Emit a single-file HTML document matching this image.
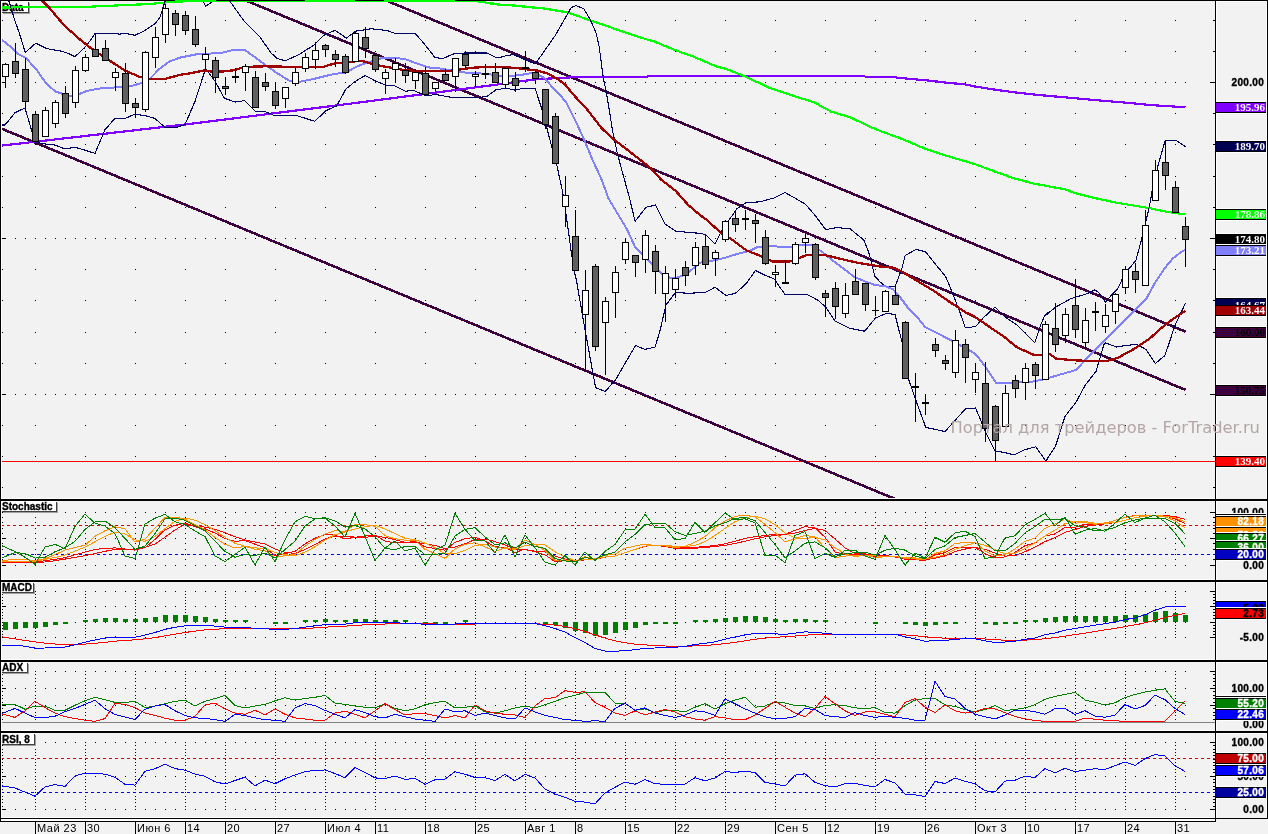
<!DOCTYPE html>
<html><head><meta charset="utf-8"><style>
html,body{margin:0;padding:0;background:#f2f2f2;overflow:hidden;}
svg{display:block;}
text{font-family:"Liberation Sans","DejaVu Sans",sans-serif;}
.d{font-size:11px;fill:#000;letter-spacing:0.5px;}
.t{font-size:10px;font-weight:bold;fill:#000;stroke:#000;stroke-width:0.35px;}
.v{font-size:10px;font-weight:bold;text-anchor:end;letter-spacing:0.3px;stroke-width:0.35px;}
.bv{font-family:"Liberation Serif",serif;font-size:11px;font-weight:bold;text-anchor:end;}
.wm{font-family:"DejaVu Sans",sans-serif;font-size:16.3px;fill:#b4a6a6;}
</style></head><body>
<svg shape-rendering="crispEdges" width="1268" height="834" viewBox="0 0 1268 834">
<defs>
<pattern id="dith" x="0" y="0" width="2" height="2" patternUnits="userSpaceOnUse"><rect width="2" height="2" fill="#2c004c"/><rect width="1" height="1" fill="#4c0030"/><rect x="1" y="1" width="1" height="1" fill="#4c0030"/></pattern>
<clipPath id="cmain"><rect x="1" y="1" width="1214" height="497"/></clipPath>
<clipPath id="cst"><rect x="1" y="501" width="1214" height="78"/></clipPath>
<clipPath id="cmd"><rect x="1" y="582" width="1214" height="77"/></clipPath>
<clipPath id="cad"><rect x="1" y="662" width="1214" height="68"/></clipPath>
<clipPath id="crs"><rect x="1" y="733" width="1214" height="84"/></clipPath>
<clipPath id="cax"><rect x="1216" y="0" width="50" height="818"/></clipPath>
</defs>
<rect x="0" y="0" width="1268" height="834" fill="#f2f2f2"/>
<path d="M15 82h1v1h-1zM25 82h1v1h-1zM35 82h1v1h-1zM45 82h1v1h-1zM55 82h1v1h-1zM65 82h1v1h-1zM75 82h1v1h-1zM85 82h1v1h-1zM95 82h1v1h-1zM105 82h1v1h-1zM115 82h1v1h-1zM125 82h1v1h-1zM135 82h1v1h-1zM145 82h1v1h-1zM155 82h1v1h-1zM165 82h1v1h-1zM175 82h1v1h-1zM185 82h1v1h-1zM195 82h1v1h-1zM205 82h1v1h-1zM215 82h1v1h-1zM225 82h1v1h-1zM235 82h1v1h-1zM245 82h1v1h-1zM255 82h1v1h-1zM265 82h1v1h-1zM275 82h1v1h-1zM285 82h1v1h-1zM295 82h1v1h-1zM305 82h1v1h-1zM315 82h1v1h-1zM325 82h1v1h-1zM335 82h1v1h-1zM345 82h1v1h-1zM355 82h1v1h-1zM365 82h1v1h-1zM375 82h1v1h-1zM385 82h1v1h-1zM395 82h1v1h-1zM405 82h1v1h-1zM415 82h1v1h-1zM425 82h1v1h-1zM435 82h1v1h-1zM445 82h1v1h-1zM455 82h1v1h-1zM465 82h1v1h-1zM475 82h1v1h-1zM485 82h1v1h-1zM495 82h1v1h-1zM505 82h1v1h-1zM515 82h1v1h-1zM525 82h1v1h-1zM535 82h1v1h-1zM545 82h1v1h-1zM555 82h1v1h-1zM565 82h1v1h-1zM575 82h1v1h-1zM585 82h1v1h-1zM595 82h1v1h-1zM605 82h1v1h-1zM615 82h1v1h-1zM625 82h1v1h-1zM635 82h1v1h-1zM645 82h1v1h-1zM655 82h1v1h-1zM665 82h1v1h-1zM675 82h1v1h-1zM685 82h1v1h-1zM695 82h1v1h-1zM705 82h1v1h-1zM715 82h1v1h-1zM725 82h1v1h-1zM735 82h1v1h-1zM745 82h1v1h-1zM755 82h1v1h-1zM765 82h1v1h-1zM775 82h1v1h-1zM785 82h1v1h-1zM795 82h1v1h-1zM805 82h1v1h-1zM815 82h1v1h-1zM825 82h1v1h-1zM835 82h1v1h-1zM845 82h1v1h-1zM855 82h1v1h-1zM865 82h1v1h-1zM875 82h1v1h-1zM885 82h1v1h-1zM895 82h1v1h-1zM905 82h1v1h-1zM915 82h1v1h-1zM925 82h1v1h-1zM935 82h1v1h-1zM945 82h1v1h-1zM955 82h1v1h-1zM965 82h1v1h-1zM975 82h1v1h-1zM985 82h1v1h-1zM995 82h1v1h-1zM1005 82h1v1h-1zM1015 82h1v1h-1zM1025 82h1v1h-1zM1035 82h1v1h-1zM1045 82h1v1h-1zM1055 82h1v1h-1zM1065 82h1v1h-1zM1075 82h1v1h-1zM1085 82h1v1h-1zM1095 82h1v1h-1zM1105 82h1v1h-1zM1115 82h1v1h-1zM1125 82h1v1h-1zM1135 82h1v1h-1zM1145 82h1v1h-1zM1155 82h1v1h-1zM1165 82h1v1h-1zM1175 82h1v1h-1zM1185 82h1v1h-1zM15 238h1v1h-1zM25 238h1v1h-1zM35 238h1v1h-1zM45 238h1v1h-1zM55 238h1v1h-1zM65 238h1v1h-1zM75 238h1v1h-1zM85 238h1v1h-1zM95 238h1v1h-1zM105 238h1v1h-1zM115 238h1v1h-1zM125 238h1v1h-1zM135 238h1v1h-1zM145 238h1v1h-1zM155 238h1v1h-1zM165 238h1v1h-1zM175 238h1v1h-1zM185 238h1v1h-1zM195 238h1v1h-1zM205 238h1v1h-1zM215 238h1v1h-1zM225 238h1v1h-1zM235 238h1v1h-1zM245 238h1v1h-1zM255 238h1v1h-1zM265 238h1v1h-1zM275 238h1v1h-1zM285 238h1v1h-1zM295 238h1v1h-1zM305 238h1v1h-1zM315 238h1v1h-1zM325 238h1v1h-1zM335 238h1v1h-1zM345 238h1v1h-1zM355 238h1v1h-1zM365 238h1v1h-1zM375 238h1v1h-1zM385 238h1v1h-1zM395 238h1v1h-1zM405 238h1v1h-1zM415 238h1v1h-1zM425 238h1v1h-1zM435 238h1v1h-1zM445 238h1v1h-1zM455 238h1v1h-1zM465 238h1v1h-1zM475 238h1v1h-1zM485 238h1v1h-1zM495 238h1v1h-1zM505 238h1v1h-1zM515 238h1v1h-1zM525 238h1v1h-1zM535 238h1v1h-1zM545 238h1v1h-1zM555 238h1v1h-1zM565 238h1v1h-1zM575 238h1v1h-1zM585 238h1v1h-1zM595 238h1v1h-1zM605 238h1v1h-1zM615 238h1v1h-1zM625 238h1v1h-1zM635 238h1v1h-1zM645 238h1v1h-1zM655 238h1v1h-1zM665 238h1v1h-1zM675 238h1v1h-1zM685 238h1v1h-1zM695 238h1v1h-1zM705 238h1v1h-1zM715 238h1v1h-1zM725 238h1v1h-1zM735 238h1v1h-1zM745 238h1v1h-1zM755 238h1v1h-1zM765 238h1v1h-1zM775 238h1v1h-1zM785 238h1v1h-1zM795 238h1v1h-1zM805 238h1v1h-1zM815 238h1v1h-1zM825 238h1v1h-1zM835 238h1v1h-1zM845 238h1v1h-1zM855 238h1v1h-1zM865 238h1v1h-1zM875 238h1v1h-1zM885 238h1v1h-1zM895 238h1v1h-1zM905 238h1v1h-1zM915 238h1v1h-1zM925 238h1v1h-1zM935 238h1v1h-1zM945 238h1v1h-1zM955 238h1v1h-1zM965 238h1v1h-1zM975 238h1v1h-1zM985 238h1v1h-1zM995 238h1v1h-1zM1005 238h1v1h-1zM1015 238h1v1h-1zM1025 238h1v1h-1zM1035 238h1v1h-1zM1045 238h1v1h-1zM1055 238h1v1h-1zM1065 238h1v1h-1zM1075 238h1v1h-1zM1085 238h1v1h-1zM1095 238h1v1h-1zM1105 238h1v1h-1zM1115 238h1v1h-1zM1125 238h1v1h-1zM1135 238h1v1h-1zM1145 238h1v1h-1zM1155 238h1v1h-1zM1165 238h1v1h-1zM1175 238h1v1h-1zM1185 238h1v1h-1zM15 394h1v1h-1zM25 394h1v1h-1zM35 394h1v1h-1zM45 394h1v1h-1zM55 394h1v1h-1zM65 394h1v1h-1zM75 394h1v1h-1zM85 394h1v1h-1zM95 394h1v1h-1zM105 394h1v1h-1zM115 394h1v1h-1zM125 394h1v1h-1zM135 394h1v1h-1zM145 394h1v1h-1zM155 394h1v1h-1zM165 394h1v1h-1zM175 394h1v1h-1zM185 394h1v1h-1zM195 394h1v1h-1zM205 394h1v1h-1zM215 394h1v1h-1zM225 394h1v1h-1zM235 394h1v1h-1zM245 394h1v1h-1zM255 394h1v1h-1zM265 394h1v1h-1zM275 394h1v1h-1zM285 394h1v1h-1zM295 394h1v1h-1zM305 394h1v1h-1zM315 394h1v1h-1zM325 394h1v1h-1zM335 394h1v1h-1zM345 394h1v1h-1zM355 394h1v1h-1zM365 394h1v1h-1zM375 394h1v1h-1zM385 394h1v1h-1zM395 394h1v1h-1zM405 394h1v1h-1zM415 394h1v1h-1zM425 394h1v1h-1zM435 394h1v1h-1zM445 394h1v1h-1zM455 394h1v1h-1zM465 394h1v1h-1zM475 394h1v1h-1zM485 394h1v1h-1zM495 394h1v1h-1zM505 394h1v1h-1zM515 394h1v1h-1zM525 394h1v1h-1zM535 394h1v1h-1zM545 394h1v1h-1zM555 394h1v1h-1zM565 394h1v1h-1zM575 394h1v1h-1zM585 394h1v1h-1zM595 394h1v1h-1zM605 394h1v1h-1zM615 394h1v1h-1zM625 394h1v1h-1zM635 394h1v1h-1zM645 394h1v1h-1zM655 394h1v1h-1zM665 394h1v1h-1zM675 394h1v1h-1zM685 394h1v1h-1zM695 394h1v1h-1zM705 394h1v1h-1zM715 394h1v1h-1zM725 394h1v1h-1zM735 394h1v1h-1zM745 394h1v1h-1zM755 394h1v1h-1zM765 394h1v1h-1zM775 394h1v1h-1zM785 394h1v1h-1zM795 394h1v1h-1zM805 394h1v1h-1zM815 394h1v1h-1zM825 394h1v1h-1zM835 394h1v1h-1zM845 394h1v1h-1zM855 394h1v1h-1zM865 394h1v1h-1zM875 394h1v1h-1zM885 394h1v1h-1zM895 394h1v1h-1zM905 394h1v1h-1zM915 394h1v1h-1zM925 394h1v1h-1zM935 394h1v1h-1zM945 394h1v1h-1zM955 394h1v1h-1zM965 394h1v1h-1zM975 394h1v1h-1zM985 394h1v1h-1zM995 394h1v1h-1zM1005 394h1v1h-1zM1015 394h1v1h-1zM1025 394h1v1h-1zM1035 394h1v1h-1zM1045 394h1v1h-1zM1055 394h1v1h-1zM1065 394h1v1h-1zM1075 394h1v1h-1zM1085 394h1v1h-1zM1095 394h1v1h-1zM1105 394h1v1h-1zM1115 394h1v1h-1zM1125 394h1v1h-1zM1135 394h1v1h-1zM1145 394h1v1h-1zM1155 394h1v1h-1zM1165 394h1v1h-1zM1175 394h1v1h-1zM1185 394h1v1h-1zM35 487h1v1h-1zM35 456h1v1h-1zM35 425h1v1h-1zM35 394h1v1h-1zM35 363h1v1h-1zM35 332h1v1h-1zM35 300h1v1h-1zM35 269h1v1h-1zM35 238h1v1h-1zM35 207h1v1h-1zM35 176h1v1h-1zM35 144h1v1h-1zM35 113h1v1h-1zM35 82h1v1h-1zM35 51h1v1h-1zM35 20h1v1h-1zM85 487h1v1h-1zM85 456h1v1h-1zM85 425h1v1h-1zM85 394h1v1h-1zM85 363h1v1h-1zM85 332h1v1h-1zM85 300h1v1h-1zM85 269h1v1h-1zM85 238h1v1h-1zM85 207h1v1h-1zM85 176h1v1h-1zM85 144h1v1h-1zM85 113h1v1h-1zM85 82h1v1h-1zM85 51h1v1h-1zM85 20h1v1h-1zM135 487h1v1h-1zM135 456h1v1h-1zM135 425h1v1h-1zM135 394h1v1h-1zM135 363h1v1h-1zM135 332h1v1h-1zM135 300h1v1h-1zM135 269h1v1h-1zM135 238h1v1h-1zM135 207h1v1h-1zM135 176h1v1h-1zM135 144h1v1h-1zM135 113h1v1h-1zM135 82h1v1h-1zM135 51h1v1h-1zM135 20h1v1h-1zM185 487h1v1h-1zM185 456h1v1h-1zM185 425h1v1h-1zM185 394h1v1h-1zM185 363h1v1h-1zM185 332h1v1h-1zM185 300h1v1h-1zM185 269h1v1h-1zM185 238h1v1h-1zM185 207h1v1h-1zM185 176h1v1h-1zM185 144h1v1h-1zM185 113h1v1h-1zM185 82h1v1h-1zM185 51h1v1h-1zM185 20h1v1h-1zM225 487h1v1h-1zM225 456h1v1h-1zM225 425h1v1h-1zM225 394h1v1h-1zM225 363h1v1h-1zM225 332h1v1h-1zM225 300h1v1h-1zM225 269h1v1h-1zM225 238h1v1h-1zM225 207h1v1h-1zM225 176h1v1h-1zM225 144h1v1h-1zM225 113h1v1h-1zM225 82h1v1h-1zM225 51h1v1h-1zM225 20h1v1h-1zM275 487h1v1h-1zM275 456h1v1h-1zM275 425h1v1h-1zM275 394h1v1h-1zM275 363h1v1h-1zM275 332h1v1h-1zM275 300h1v1h-1zM275 269h1v1h-1zM275 238h1v1h-1zM275 207h1v1h-1zM275 176h1v1h-1zM275 144h1v1h-1zM275 113h1v1h-1zM275 82h1v1h-1zM275 51h1v1h-1zM275 20h1v1h-1zM325 487h1v1h-1zM325 456h1v1h-1zM325 425h1v1h-1zM325 394h1v1h-1zM325 363h1v1h-1zM325 332h1v1h-1zM325 300h1v1h-1zM325 269h1v1h-1zM325 238h1v1h-1zM325 207h1v1h-1zM325 176h1v1h-1zM325 144h1v1h-1zM325 113h1v1h-1zM325 82h1v1h-1zM325 51h1v1h-1zM325 20h1v1h-1zM375 487h1v1h-1zM375 456h1v1h-1zM375 425h1v1h-1zM375 394h1v1h-1zM375 363h1v1h-1zM375 332h1v1h-1zM375 300h1v1h-1zM375 269h1v1h-1zM375 238h1v1h-1zM375 207h1v1h-1zM375 176h1v1h-1zM375 144h1v1h-1zM375 113h1v1h-1zM375 82h1v1h-1zM375 51h1v1h-1zM375 20h1v1h-1zM425 487h1v1h-1zM425 456h1v1h-1zM425 425h1v1h-1zM425 394h1v1h-1zM425 363h1v1h-1zM425 332h1v1h-1zM425 300h1v1h-1zM425 269h1v1h-1zM425 238h1v1h-1zM425 207h1v1h-1zM425 176h1v1h-1zM425 144h1v1h-1zM425 113h1v1h-1zM425 82h1v1h-1zM425 51h1v1h-1zM425 20h1v1h-1zM475 487h1v1h-1zM475 456h1v1h-1zM475 425h1v1h-1zM475 394h1v1h-1zM475 363h1v1h-1zM475 332h1v1h-1zM475 300h1v1h-1zM475 269h1v1h-1zM475 238h1v1h-1zM475 207h1v1h-1zM475 176h1v1h-1zM475 144h1v1h-1zM475 113h1v1h-1zM475 82h1v1h-1zM475 51h1v1h-1zM475 20h1v1h-1zM525 487h1v1h-1zM525 456h1v1h-1zM525 425h1v1h-1zM525 394h1v1h-1zM525 363h1v1h-1zM525 332h1v1h-1zM525 300h1v1h-1zM525 269h1v1h-1zM525 238h1v1h-1zM525 207h1v1h-1zM525 176h1v1h-1zM525 144h1v1h-1zM525 113h1v1h-1zM525 82h1v1h-1zM525 51h1v1h-1zM525 20h1v1h-1zM575 487h1v1h-1zM575 456h1v1h-1zM575 425h1v1h-1zM575 394h1v1h-1zM575 363h1v1h-1zM575 332h1v1h-1zM575 300h1v1h-1zM575 269h1v1h-1zM575 238h1v1h-1zM575 207h1v1h-1zM575 176h1v1h-1zM575 144h1v1h-1zM575 113h1v1h-1zM575 82h1v1h-1zM575 51h1v1h-1zM575 20h1v1h-1zM625 487h1v1h-1zM625 456h1v1h-1zM625 425h1v1h-1zM625 394h1v1h-1zM625 363h1v1h-1zM625 332h1v1h-1zM625 300h1v1h-1zM625 269h1v1h-1zM625 238h1v1h-1zM625 207h1v1h-1zM625 176h1v1h-1zM625 144h1v1h-1zM625 113h1v1h-1zM625 82h1v1h-1zM625 51h1v1h-1zM625 20h1v1h-1zM675 487h1v1h-1zM675 456h1v1h-1zM675 425h1v1h-1zM675 394h1v1h-1zM675 363h1v1h-1zM675 332h1v1h-1zM675 300h1v1h-1zM675 269h1v1h-1zM675 238h1v1h-1zM675 207h1v1h-1zM675 176h1v1h-1zM675 144h1v1h-1zM675 113h1v1h-1zM675 82h1v1h-1zM675 51h1v1h-1zM675 20h1v1h-1zM725 487h1v1h-1zM725 456h1v1h-1zM725 425h1v1h-1zM725 394h1v1h-1zM725 363h1v1h-1zM725 332h1v1h-1zM725 300h1v1h-1zM725 269h1v1h-1zM725 238h1v1h-1zM725 207h1v1h-1zM725 176h1v1h-1zM725 144h1v1h-1zM725 113h1v1h-1zM725 82h1v1h-1zM725 51h1v1h-1zM725 20h1v1h-1zM775 487h1v1h-1zM775 456h1v1h-1zM775 425h1v1h-1zM775 394h1v1h-1zM775 363h1v1h-1zM775 332h1v1h-1zM775 300h1v1h-1zM775 269h1v1h-1zM775 238h1v1h-1zM775 207h1v1h-1zM775 176h1v1h-1zM775 144h1v1h-1zM775 113h1v1h-1zM775 82h1v1h-1zM775 51h1v1h-1zM775 20h1v1h-1zM825 487h1v1h-1zM825 456h1v1h-1zM825 425h1v1h-1zM825 394h1v1h-1zM825 363h1v1h-1zM825 332h1v1h-1zM825 300h1v1h-1zM825 269h1v1h-1zM825 238h1v1h-1zM825 207h1v1h-1zM825 176h1v1h-1zM825 144h1v1h-1zM825 113h1v1h-1zM825 82h1v1h-1zM825 51h1v1h-1zM825 20h1v1h-1zM875 487h1v1h-1zM875 456h1v1h-1zM875 425h1v1h-1zM875 394h1v1h-1zM875 363h1v1h-1zM875 332h1v1h-1zM875 300h1v1h-1zM875 269h1v1h-1zM875 238h1v1h-1zM875 207h1v1h-1zM875 176h1v1h-1zM875 144h1v1h-1zM875 113h1v1h-1zM875 82h1v1h-1zM875 51h1v1h-1zM875 20h1v1h-1zM925 487h1v1h-1zM925 456h1v1h-1zM925 425h1v1h-1zM925 394h1v1h-1zM925 363h1v1h-1zM925 332h1v1h-1zM925 300h1v1h-1zM925 269h1v1h-1zM925 238h1v1h-1zM925 207h1v1h-1zM925 176h1v1h-1zM925 144h1v1h-1zM925 113h1v1h-1zM925 82h1v1h-1zM925 51h1v1h-1zM925 20h1v1h-1zM975 487h1v1h-1zM975 456h1v1h-1zM975 425h1v1h-1zM975 394h1v1h-1zM975 363h1v1h-1zM975 332h1v1h-1zM975 300h1v1h-1zM975 269h1v1h-1zM975 238h1v1h-1zM975 207h1v1h-1zM975 176h1v1h-1zM975 144h1v1h-1zM975 113h1v1h-1zM975 82h1v1h-1zM975 51h1v1h-1zM975 20h1v1h-1zM1025 487h1v1h-1zM1025 456h1v1h-1zM1025 425h1v1h-1zM1025 394h1v1h-1zM1025 363h1v1h-1zM1025 332h1v1h-1zM1025 300h1v1h-1zM1025 269h1v1h-1zM1025 238h1v1h-1zM1025 207h1v1h-1zM1025 176h1v1h-1zM1025 144h1v1h-1zM1025 113h1v1h-1zM1025 82h1v1h-1zM1025 51h1v1h-1zM1025 20h1v1h-1zM1075 487h1v1h-1zM1075 456h1v1h-1zM1075 425h1v1h-1zM1075 394h1v1h-1zM1075 363h1v1h-1zM1075 332h1v1h-1zM1075 300h1v1h-1zM1075 269h1v1h-1zM1075 238h1v1h-1zM1075 207h1v1h-1zM1075 176h1v1h-1zM1075 144h1v1h-1zM1075 113h1v1h-1zM1075 82h1v1h-1zM1075 51h1v1h-1zM1075 20h1v1h-1zM1125 487h1v1h-1zM1125 456h1v1h-1zM1125 425h1v1h-1zM1125 394h1v1h-1zM1125 363h1v1h-1zM1125 332h1v1h-1zM1125 300h1v1h-1zM1125 269h1v1h-1zM1125 238h1v1h-1zM1125 207h1v1h-1zM1125 176h1v1h-1zM1125 144h1v1h-1zM1125 113h1v1h-1zM1125 82h1v1h-1zM1125 51h1v1h-1zM1125 20h1v1h-1zM1175 487h1v1h-1zM1175 456h1v1h-1zM1175 425h1v1h-1zM1175 394h1v1h-1zM1175 363h1v1h-1zM1175 332h1v1h-1zM1175 300h1v1h-1zM1175 269h1v1h-1zM1175 238h1v1h-1zM1175 207h1v1h-1zM1175 176h1v1h-1zM1175 144h1v1h-1zM1175 113h1v1h-1zM1175 82h1v1h-1zM1175 51h1v1h-1zM1175 20h1v1h-1z" fill="#000"/>
<path d="M1 487h2v1h-2zM1213 487h2v1h-2zM1 456h2v1h-2zM1213 456h2v1h-2zM1 425h2v1h-2zM1213 425h2v1h-2zM1 394h2v1h-2zM1213 394h2v1h-2zM1 363h2v1h-2zM1213 363h2v1h-2zM1 332h2v1h-2zM1213 332h2v1h-2zM1 300h2v1h-2zM1213 300h2v1h-2zM1 269h2v1h-2zM1213 269h2v1h-2zM1 238h2v1h-2zM1213 238h2v1h-2zM1 207h2v1h-2zM1213 207h2v1h-2zM1 176h2v1h-2zM1213 176h2v1h-2zM1 144h2v1h-2zM1213 144h2v1h-2zM1 113h2v1h-2zM1213 113h2v1h-2zM1 82h2v1h-2zM1213 82h2v1h-2zM1 51h2v1h-2zM1213 51h2v1h-2zM1 20h2v1h-2zM1213 20h2v1h-2zM1 82h5v1h-5zM1210 82h5v1h-5zM1 238h5v1h-5zM1210 238h5v1h-5zM1 394h5v1h-5zM1210 394h5v1h-5z" fill="#000"/>
<path d="M15 512h1v1h-1zM25 512h1v1h-1zM35 512h1v1h-1zM45 512h1v1h-1zM55 512h1v1h-1zM65 512h1v1h-1zM75 512h1v1h-1zM85 512h1v1h-1zM95 512h1v1h-1zM105 512h1v1h-1zM115 512h1v1h-1zM125 512h1v1h-1zM135 512h1v1h-1zM145 512h1v1h-1zM155 512h1v1h-1zM165 512h1v1h-1zM175 512h1v1h-1zM185 512h1v1h-1zM195 512h1v1h-1zM205 512h1v1h-1zM215 512h1v1h-1zM225 512h1v1h-1zM235 512h1v1h-1zM245 512h1v1h-1zM255 512h1v1h-1zM265 512h1v1h-1zM275 512h1v1h-1zM285 512h1v1h-1zM295 512h1v1h-1zM305 512h1v1h-1zM315 512h1v1h-1zM325 512h1v1h-1zM335 512h1v1h-1zM345 512h1v1h-1zM355 512h1v1h-1zM365 512h1v1h-1zM375 512h1v1h-1zM385 512h1v1h-1zM395 512h1v1h-1zM405 512h1v1h-1zM415 512h1v1h-1zM425 512h1v1h-1zM435 512h1v1h-1zM445 512h1v1h-1zM455 512h1v1h-1zM465 512h1v1h-1zM475 512h1v1h-1zM485 512h1v1h-1zM495 512h1v1h-1zM505 512h1v1h-1zM515 512h1v1h-1zM525 512h1v1h-1zM535 512h1v1h-1zM545 512h1v1h-1zM555 512h1v1h-1zM565 512h1v1h-1zM575 512h1v1h-1zM585 512h1v1h-1zM595 512h1v1h-1zM605 512h1v1h-1zM615 512h1v1h-1zM625 512h1v1h-1zM635 512h1v1h-1zM645 512h1v1h-1zM655 512h1v1h-1zM665 512h1v1h-1zM675 512h1v1h-1zM685 512h1v1h-1zM695 512h1v1h-1zM705 512h1v1h-1zM715 512h1v1h-1zM725 512h1v1h-1zM735 512h1v1h-1zM745 512h1v1h-1zM755 512h1v1h-1zM765 512h1v1h-1zM775 512h1v1h-1zM785 512h1v1h-1zM795 512h1v1h-1zM805 512h1v1h-1zM815 512h1v1h-1zM825 512h1v1h-1zM835 512h1v1h-1zM845 512h1v1h-1zM855 512h1v1h-1zM865 512h1v1h-1zM875 512h1v1h-1zM885 512h1v1h-1zM895 512h1v1h-1zM905 512h1v1h-1zM915 512h1v1h-1zM925 512h1v1h-1zM935 512h1v1h-1zM945 512h1v1h-1zM955 512h1v1h-1zM965 512h1v1h-1zM975 512h1v1h-1zM985 512h1v1h-1zM995 512h1v1h-1zM1005 512h1v1h-1zM1015 512h1v1h-1zM1025 512h1v1h-1zM1035 512h1v1h-1zM1045 512h1v1h-1zM1055 512h1v1h-1zM1065 512h1v1h-1zM1075 512h1v1h-1zM1085 512h1v1h-1zM1095 512h1v1h-1zM1105 512h1v1h-1zM1115 512h1v1h-1zM1125 512h1v1h-1zM1135 512h1v1h-1zM1145 512h1v1h-1zM1155 512h1v1h-1zM1165 512h1v1h-1zM1175 512h1v1h-1zM1185 512h1v1h-1zM15 538h1v1h-1zM25 538h1v1h-1zM35 538h1v1h-1zM45 538h1v1h-1zM55 538h1v1h-1zM65 538h1v1h-1zM75 538h1v1h-1zM85 538h1v1h-1zM95 538h1v1h-1zM105 538h1v1h-1zM115 538h1v1h-1zM125 538h1v1h-1zM135 538h1v1h-1zM145 538h1v1h-1zM155 538h1v1h-1zM165 538h1v1h-1zM175 538h1v1h-1zM185 538h1v1h-1zM195 538h1v1h-1zM205 538h1v1h-1zM215 538h1v1h-1zM225 538h1v1h-1zM235 538h1v1h-1zM245 538h1v1h-1zM255 538h1v1h-1zM265 538h1v1h-1zM275 538h1v1h-1zM285 538h1v1h-1zM295 538h1v1h-1zM305 538h1v1h-1zM315 538h1v1h-1zM325 538h1v1h-1zM335 538h1v1h-1zM345 538h1v1h-1zM355 538h1v1h-1zM365 538h1v1h-1zM375 538h1v1h-1zM385 538h1v1h-1zM395 538h1v1h-1zM405 538h1v1h-1zM415 538h1v1h-1zM425 538h1v1h-1zM435 538h1v1h-1zM445 538h1v1h-1zM455 538h1v1h-1zM465 538h1v1h-1zM475 538h1v1h-1zM485 538h1v1h-1zM495 538h1v1h-1zM505 538h1v1h-1zM515 538h1v1h-1zM525 538h1v1h-1zM535 538h1v1h-1zM545 538h1v1h-1zM555 538h1v1h-1zM565 538h1v1h-1zM575 538h1v1h-1zM585 538h1v1h-1zM595 538h1v1h-1zM605 538h1v1h-1zM615 538h1v1h-1zM625 538h1v1h-1zM635 538h1v1h-1zM645 538h1v1h-1zM655 538h1v1h-1zM665 538h1v1h-1zM675 538h1v1h-1zM685 538h1v1h-1zM695 538h1v1h-1zM705 538h1v1h-1zM715 538h1v1h-1zM725 538h1v1h-1zM735 538h1v1h-1zM745 538h1v1h-1zM755 538h1v1h-1zM765 538h1v1h-1zM775 538h1v1h-1zM785 538h1v1h-1zM795 538h1v1h-1zM805 538h1v1h-1zM815 538h1v1h-1zM825 538h1v1h-1zM835 538h1v1h-1zM845 538h1v1h-1zM855 538h1v1h-1zM865 538h1v1h-1zM875 538h1v1h-1zM885 538h1v1h-1zM895 538h1v1h-1zM905 538h1v1h-1zM915 538h1v1h-1zM925 538h1v1h-1zM935 538h1v1h-1zM945 538h1v1h-1zM955 538h1v1h-1zM965 538h1v1h-1zM975 538h1v1h-1zM985 538h1v1h-1zM995 538h1v1h-1zM1005 538h1v1h-1zM1015 538h1v1h-1zM1025 538h1v1h-1zM1035 538h1v1h-1zM1045 538h1v1h-1zM1055 538h1v1h-1zM1065 538h1v1h-1zM1075 538h1v1h-1zM1085 538h1v1h-1zM1095 538h1v1h-1zM1105 538h1v1h-1zM1115 538h1v1h-1zM1125 538h1v1h-1zM1135 538h1v1h-1zM1145 538h1v1h-1zM1155 538h1v1h-1zM1165 538h1v1h-1zM1175 538h1v1h-1zM1185 538h1v1h-1zM15 565h1v1h-1zM25 565h1v1h-1zM35 565h1v1h-1zM45 565h1v1h-1zM55 565h1v1h-1zM65 565h1v1h-1zM75 565h1v1h-1zM85 565h1v1h-1zM95 565h1v1h-1zM105 565h1v1h-1zM115 565h1v1h-1zM125 565h1v1h-1zM135 565h1v1h-1zM145 565h1v1h-1zM155 565h1v1h-1zM165 565h1v1h-1zM175 565h1v1h-1zM185 565h1v1h-1zM195 565h1v1h-1zM205 565h1v1h-1zM215 565h1v1h-1zM225 565h1v1h-1zM235 565h1v1h-1zM245 565h1v1h-1zM255 565h1v1h-1zM265 565h1v1h-1zM275 565h1v1h-1zM285 565h1v1h-1zM295 565h1v1h-1zM305 565h1v1h-1zM315 565h1v1h-1zM325 565h1v1h-1zM335 565h1v1h-1zM345 565h1v1h-1zM355 565h1v1h-1zM365 565h1v1h-1zM375 565h1v1h-1zM385 565h1v1h-1zM395 565h1v1h-1zM405 565h1v1h-1zM415 565h1v1h-1zM425 565h1v1h-1zM435 565h1v1h-1zM445 565h1v1h-1zM455 565h1v1h-1zM465 565h1v1h-1zM475 565h1v1h-1zM485 565h1v1h-1zM495 565h1v1h-1zM505 565h1v1h-1zM515 565h1v1h-1zM525 565h1v1h-1zM535 565h1v1h-1zM545 565h1v1h-1zM555 565h1v1h-1zM565 565h1v1h-1zM575 565h1v1h-1zM585 565h1v1h-1zM595 565h1v1h-1zM605 565h1v1h-1zM615 565h1v1h-1zM625 565h1v1h-1zM635 565h1v1h-1zM645 565h1v1h-1zM655 565h1v1h-1zM665 565h1v1h-1zM675 565h1v1h-1zM685 565h1v1h-1zM695 565h1v1h-1zM705 565h1v1h-1zM715 565h1v1h-1zM725 565h1v1h-1zM735 565h1v1h-1zM745 565h1v1h-1zM755 565h1v1h-1zM765 565h1v1h-1zM775 565h1v1h-1zM785 565h1v1h-1zM795 565h1v1h-1zM805 565h1v1h-1zM815 565h1v1h-1zM825 565h1v1h-1zM835 565h1v1h-1zM845 565h1v1h-1zM855 565h1v1h-1zM865 565h1v1h-1zM875 565h1v1h-1zM885 565h1v1h-1zM895 565h1v1h-1zM905 565h1v1h-1zM915 565h1v1h-1zM925 565h1v1h-1zM935 565h1v1h-1zM945 565h1v1h-1zM955 565h1v1h-1zM965 565h1v1h-1zM975 565h1v1h-1zM985 565h1v1h-1zM995 565h1v1h-1zM1005 565h1v1h-1zM1015 565h1v1h-1zM1025 565h1v1h-1zM1035 565h1v1h-1zM1045 565h1v1h-1zM1055 565h1v1h-1zM1065 565h1v1h-1zM1075 565h1v1h-1zM1085 565h1v1h-1zM1095 565h1v1h-1zM1105 565h1v1h-1zM1115 565h1v1h-1zM1125 565h1v1h-1zM1135 565h1v1h-1zM1145 565h1v1h-1zM1155 565h1v1h-1zM1165 565h1v1h-1zM1175 565h1v1h-1zM1185 565h1v1h-1zM35 565h1v1h-1zM35 559h1v1h-1zM35 554h1v1h-1zM35 549h1v1h-1zM35 543h1v1h-1zM35 538h1v1h-1zM35 533h1v1h-1zM35 528h1v1h-1zM35 522h1v1h-1zM35 517h1v1h-1zM35 512h1v1h-1zM85 565h1v1h-1zM85 559h1v1h-1zM85 554h1v1h-1zM85 549h1v1h-1zM85 543h1v1h-1zM85 538h1v1h-1zM85 533h1v1h-1zM85 528h1v1h-1zM85 522h1v1h-1zM85 517h1v1h-1zM85 512h1v1h-1zM135 565h1v1h-1zM135 559h1v1h-1zM135 554h1v1h-1zM135 549h1v1h-1zM135 543h1v1h-1zM135 538h1v1h-1zM135 533h1v1h-1zM135 528h1v1h-1zM135 522h1v1h-1zM135 517h1v1h-1zM135 512h1v1h-1zM185 565h1v1h-1zM185 559h1v1h-1zM185 554h1v1h-1zM185 549h1v1h-1zM185 543h1v1h-1zM185 538h1v1h-1zM185 533h1v1h-1zM185 528h1v1h-1zM185 522h1v1h-1zM185 517h1v1h-1zM185 512h1v1h-1zM225 565h1v1h-1zM225 559h1v1h-1zM225 554h1v1h-1zM225 549h1v1h-1zM225 543h1v1h-1zM225 538h1v1h-1zM225 533h1v1h-1zM225 528h1v1h-1zM225 522h1v1h-1zM225 517h1v1h-1zM225 512h1v1h-1zM275 565h1v1h-1zM275 559h1v1h-1zM275 554h1v1h-1zM275 549h1v1h-1zM275 543h1v1h-1zM275 538h1v1h-1zM275 533h1v1h-1zM275 528h1v1h-1zM275 522h1v1h-1zM275 517h1v1h-1zM275 512h1v1h-1zM325 565h1v1h-1zM325 559h1v1h-1zM325 554h1v1h-1zM325 549h1v1h-1zM325 543h1v1h-1zM325 538h1v1h-1zM325 533h1v1h-1zM325 528h1v1h-1zM325 522h1v1h-1zM325 517h1v1h-1zM325 512h1v1h-1zM375 565h1v1h-1zM375 559h1v1h-1zM375 554h1v1h-1zM375 549h1v1h-1zM375 543h1v1h-1zM375 538h1v1h-1zM375 533h1v1h-1zM375 528h1v1h-1zM375 522h1v1h-1zM375 517h1v1h-1zM375 512h1v1h-1zM425 565h1v1h-1zM425 559h1v1h-1zM425 554h1v1h-1zM425 549h1v1h-1zM425 543h1v1h-1zM425 538h1v1h-1zM425 533h1v1h-1zM425 528h1v1h-1zM425 522h1v1h-1zM425 517h1v1h-1zM425 512h1v1h-1zM475 565h1v1h-1zM475 559h1v1h-1zM475 554h1v1h-1zM475 549h1v1h-1zM475 543h1v1h-1zM475 538h1v1h-1zM475 533h1v1h-1zM475 528h1v1h-1zM475 522h1v1h-1zM475 517h1v1h-1zM475 512h1v1h-1zM525 565h1v1h-1zM525 559h1v1h-1zM525 554h1v1h-1zM525 549h1v1h-1zM525 543h1v1h-1zM525 538h1v1h-1zM525 533h1v1h-1zM525 528h1v1h-1zM525 522h1v1h-1zM525 517h1v1h-1zM525 512h1v1h-1zM575 565h1v1h-1zM575 559h1v1h-1zM575 554h1v1h-1zM575 549h1v1h-1zM575 543h1v1h-1zM575 538h1v1h-1zM575 533h1v1h-1zM575 528h1v1h-1zM575 522h1v1h-1zM575 517h1v1h-1zM575 512h1v1h-1zM625 565h1v1h-1zM625 559h1v1h-1zM625 554h1v1h-1zM625 549h1v1h-1zM625 543h1v1h-1zM625 538h1v1h-1zM625 533h1v1h-1zM625 528h1v1h-1zM625 522h1v1h-1zM625 517h1v1h-1zM625 512h1v1h-1zM675 565h1v1h-1zM675 559h1v1h-1zM675 554h1v1h-1zM675 549h1v1h-1zM675 543h1v1h-1zM675 538h1v1h-1zM675 533h1v1h-1zM675 528h1v1h-1zM675 522h1v1h-1zM675 517h1v1h-1zM675 512h1v1h-1zM725 565h1v1h-1zM725 559h1v1h-1zM725 554h1v1h-1zM725 549h1v1h-1zM725 543h1v1h-1zM725 538h1v1h-1zM725 533h1v1h-1zM725 528h1v1h-1zM725 522h1v1h-1zM725 517h1v1h-1zM725 512h1v1h-1zM775 565h1v1h-1zM775 559h1v1h-1zM775 554h1v1h-1zM775 549h1v1h-1zM775 543h1v1h-1zM775 538h1v1h-1zM775 533h1v1h-1zM775 528h1v1h-1zM775 522h1v1h-1zM775 517h1v1h-1zM775 512h1v1h-1zM825 565h1v1h-1zM825 559h1v1h-1zM825 554h1v1h-1zM825 549h1v1h-1zM825 543h1v1h-1zM825 538h1v1h-1zM825 533h1v1h-1zM825 528h1v1h-1zM825 522h1v1h-1zM825 517h1v1h-1zM825 512h1v1h-1zM875 565h1v1h-1zM875 559h1v1h-1zM875 554h1v1h-1zM875 549h1v1h-1zM875 543h1v1h-1zM875 538h1v1h-1zM875 533h1v1h-1zM875 528h1v1h-1zM875 522h1v1h-1zM875 517h1v1h-1zM875 512h1v1h-1zM925 565h1v1h-1zM925 559h1v1h-1zM925 554h1v1h-1zM925 549h1v1h-1zM925 543h1v1h-1zM925 538h1v1h-1zM925 533h1v1h-1zM925 528h1v1h-1zM925 522h1v1h-1zM925 517h1v1h-1zM925 512h1v1h-1zM975 565h1v1h-1zM975 559h1v1h-1zM975 554h1v1h-1zM975 549h1v1h-1zM975 543h1v1h-1zM975 538h1v1h-1zM975 533h1v1h-1zM975 528h1v1h-1zM975 522h1v1h-1zM975 517h1v1h-1zM975 512h1v1h-1zM1025 565h1v1h-1zM1025 559h1v1h-1zM1025 554h1v1h-1zM1025 549h1v1h-1zM1025 543h1v1h-1zM1025 538h1v1h-1zM1025 533h1v1h-1zM1025 528h1v1h-1zM1025 522h1v1h-1zM1025 517h1v1h-1zM1025 512h1v1h-1zM1075 565h1v1h-1zM1075 559h1v1h-1zM1075 554h1v1h-1zM1075 549h1v1h-1zM1075 543h1v1h-1zM1075 538h1v1h-1zM1075 533h1v1h-1zM1075 528h1v1h-1zM1075 522h1v1h-1zM1075 517h1v1h-1zM1075 512h1v1h-1zM1125 565h1v1h-1zM1125 559h1v1h-1zM1125 554h1v1h-1zM1125 549h1v1h-1zM1125 543h1v1h-1zM1125 538h1v1h-1zM1125 533h1v1h-1zM1125 528h1v1h-1zM1125 522h1v1h-1zM1125 517h1v1h-1zM1125 512h1v1h-1zM1175 565h1v1h-1zM1175 559h1v1h-1zM1175 554h1v1h-1zM1175 549h1v1h-1zM1175 543h1v1h-1zM1175 538h1v1h-1zM1175 533h1v1h-1zM1175 528h1v1h-1zM1175 522h1v1h-1zM1175 517h1v1h-1zM1175 512h1v1h-1z" fill="#000"/>
<path d="M1 565h2v1h-2zM1213 565h2v1h-2zM1 559h2v1h-2zM1213 559h2v1h-2zM1 554h2v1h-2zM1213 554h2v1h-2zM1 549h2v1h-2zM1213 549h2v1h-2zM1 543h2v1h-2zM1213 543h2v1h-2zM1 538h2v1h-2zM1213 538h2v1h-2zM1 533h2v1h-2zM1213 533h2v1h-2zM1 528h2v1h-2zM1213 528h2v1h-2zM1 522h2v1h-2zM1213 522h2v1h-2zM1 517h2v1h-2zM1213 517h2v1h-2zM1 512h2v1h-2zM1213 512h2v1h-2zM1 512h5v1h-5zM1210 512h5v1h-5zM1 538h5v1h-5zM1210 538h5v1h-5zM1 565h5v1h-5zM1210 565h5v1h-5z" fill="#000"/>
<path d="M15 591h1v1h-1zM25 591h1v1h-1zM35 591h1v1h-1zM45 591h1v1h-1zM55 591h1v1h-1zM65 591h1v1h-1zM75 591h1v1h-1zM85 591h1v1h-1zM95 591h1v1h-1zM105 591h1v1h-1zM115 591h1v1h-1zM125 591h1v1h-1zM135 591h1v1h-1zM145 591h1v1h-1zM155 591h1v1h-1zM165 591h1v1h-1zM175 591h1v1h-1zM185 591h1v1h-1zM195 591h1v1h-1zM205 591h1v1h-1zM215 591h1v1h-1zM225 591h1v1h-1zM235 591h1v1h-1zM245 591h1v1h-1zM255 591h1v1h-1zM265 591h1v1h-1zM275 591h1v1h-1zM285 591h1v1h-1zM295 591h1v1h-1zM305 591h1v1h-1zM315 591h1v1h-1zM325 591h1v1h-1zM335 591h1v1h-1zM345 591h1v1h-1zM355 591h1v1h-1zM365 591h1v1h-1zM375 591h1v1h-1zM385 591h1v1h-1zM395 591h1v1h-1zM405 591h1v1h-1zM415 591h1v1h-1zM425 591h1v1h-1zM435 591h1v1h-1zM445 591h1v1h-1zM455 591h1v1h-1zM465 591h1v1h-1zM475 591h1v1h-1zM485 591h1v1h-1zM495 591h1v1h-1zM505 591h1v1h-1zM515 591h1v1h-1zM525 591h1v1h-1zM535 591h1v1h-1zM545 591h1v1h-1zM555 591h1v1h-1zM565 591h1v1h-1zM575 591h1v1h-1zM585 591h1v1h-1zM595 591h1v1h-1zM605 591h1v1h-1zM615 591h1v1h-1zM625 591h1v1h-1zM635 591h1v1h-1zM645 591h1v1h-1zM655 591h1v1h-1zM665 591h1v1h-1zM675 591h1v1h-1zM685 591h1v1h-1zM695 591h1v1h-1zM705 591h1v1h-1zM715 591h1v1h-1zM725 591h1v1h-1zM735 591h1v1h-1zM745 591h1v1h-1zM755 591h1v1h-1zM765 591h1v1h-1zM775 591h1v1h-1zM785 591h1v1h-1zM795 591h1v1h-1zM805 591h1v1h-1zM815 591h1v1h-1zM825 591h1v1h-1zM835 591h1v1h-1zM845 591h1v1h-1zM855 591h1v1h-1zM865 591h1v1h-1zM875 591h1v1h-1zM885 591h1v1h-1zM895 591h1v1h-1zM905 591h1v1h-1zM915 591h1v1h-1zM925 591h1v1h-1zM935 591h1v1h-1zM945 591h1v1h-1zM955 591h1v1h-1zM965 591h1v1h-1zM975 591h1v1h-1zM985 591h1v1h-1zM995 591h1v1h-1zM1005 591h1v1h-1zM1015 591h1v1h-1zM1025 591h1v1h-1zM1035 591h1v1h-1zM1045 591h1v1h-1zM1055 591h1v1h-1zM1065 591h1v1h-1zM1075 591h1v1h-1zM1085 591h1v1h-1zM1095 591h1v1h-1zM1105 591h1v1h-1zM1115 591h1v1h-1zM1125 591h1v1h-1zM1135 591h1v1h-1zM1145 591h1v1h-1zM1155 591h1v1h-1zM1165 591h1v1h-1zM1175 591h1v1h-1zM1185 591h1v1h-1zM15 606h1v1h-1zM25 606h1v1h-1zM35 606h1v1h-1zM45 606h1v1h-1zM55 606h1v1h-1zM65 606h1v1h-1zM75 606h1v1h-1zM85 606h1v1h-1zM95 606h1v1h-1zM105 606h1v1h-1zM115 606h1v1h-1zM125 606h1v1h-1zM135 606h1v1h-1zM145 606h1v1h-1zM155 606h1v1h-1zM165 606h1v1h-1zM175 606h1v1h-1zM185 606h1v1h-1zM195 606h1v1h-1zM205 606h1v1h-1zM215 606h1v1h-1zM225 606h1v1h-1zM235 606h1v1h-1zM245 606h1v1h-1zM255 606h1v1h-1zM265 606h1v1h-1zM275 606h1v1h-1zM285 606h1v1h-1zM295 606h1v1h-1zM305 606h1v1h-1zM315 606h1v1h-1zM325 606h1v1h-1zM335 606h1v1h-1zM345 606h1v1h-1zM355 606h1v1h-1zM365 606h1v1h-1zM375 606h1v1h-1zM385 606h1v1h-1zM395 606h1v1h-1zM405 606h1v1h-1zM415 606h1v1h-1zM425 606h1v1h-1zM435 606h1v1h-1zM445 606h1v1h-1zM455 606h1v1h-1zM465 606h1v1h-1zM475 606h1v1h-1zM485 606h1v1h-1zM495 606h1v1h-1zM505 606h1v1h-1zM515 606h1v1h-1zM525 606h1v1h-1zM535 606h1v1h-1zM545 606h1v1h-1zM555 606h1v1h-1zM565 606h1v1h-1zM575 606h1v1h-1zM585 606h1v1h-1zM595 606h1v1h-1zM605 606h1v1h-1zM615 606h1v1h-1zM625 606h1v1h-1zM635 606h1v1h-1zM645 606h1v1h-1zM655 606h1v1h-1zM665 606h1v1h-1zM675 606h1v1h-1zM685 606h1v1h-1zM695 606h1v1h-1zM705 606h1v1h-1zM715 606h1v1h-1zM725 606h1v1h-1zM735 606h1v1h-1zM745 606h1v1h-1zM755 606h1v1h-1zM765 606h1v1h-1zM775 606h1v1h-1zM785 606h1v1h-1zM795 606h1v1h-1zM805 606h1v1h-1zM815 606h1v1h-1zM825 606h1v1h-1zM835 606h1v1h-1zM845 606h1v1h-1zM855 606h1v1h-1zM865 606h1v1h-1zM875 606h1v1h-1zM885 606h1v1h-1zM895 606h1v1h-1zM905 606h1v1h-1zM915 606h1v1h-1zM925 606h1v1h-1zM935 606h1v1h-1zM945 606h1v1h-1zM955 606h1v1h-1zM965 606h1v1h-1zM975 606h1v1h-1zM985 606h1v1h-1zM995 606h1v1h-1zM1005 606h1v1h-1zM1015 606h1v1h-1zM1025 606h1v1h-1zM1035 606h1v1h-1zM1045 606h1v1h-1zM1055 606h1v1h-1zM1065 606h1v1h-1zM1075 606h1v1h-1zM1085 606h1v1h-1zM1095 606h1v1h-1zM1105 606h1v1h-1zM1115 606h1v1h-1zM1125 606h1v1h-1zM1135 606h1v1h-1zM1145 606h1v1h-1zM1155 606h1v1h-1zM1165 606h1v1h-1zM1175 606h1v1h-1zM1185 606h1v1h-1zM15 622h1v1h-1zM25 622h1v1h-1zM35 622h1v1h-1zM45 622h1v1h-1zM55 622h1v1h-1zM65 622h1v1h-1zM75 622h1v1h-1zM85 622h1v1h-1zM95 622h1v1h-1zM105 622h1v1h-1zM115 622h1v1h-1zM125 622h1v1h-1zM135 622h1v1h-1zM145 622h1v1h-1zM155 622h1v1h-1zM165 622h1v1h-1zM175 622h1v1h-1zM185 622h1v1h-1zM195 622h1v1h-1zM205 622h1v1h-1zM215 622h1v1h-1zM225 622h1v1h-1zM235 622h1v1h-1zM245 622h1v1h-1zM255 622h1v1h-1zM265 622h1v1h-1zM275 622h1v1h-1zM285 622h1v1h-1zM295 622h1v1h-1zM305 622h1v1h-1zM315 622h1v1h-1zM325 622h1v1h-1zM335 622h1v1h-1zM345 622h1v1h-1zM355 622h1v1h-1zM365 622h1v1h-1zM375 622h1v1h-1zM385 622h1v1h-1zM395 622h1v1h-1zM405 622h1v1h-1zM415 622h1v1h-1zM425 622h1v1h-1zM435 622h1v1h-1zM445 622h1v1h-1zM455 622h1v1h-1zM465 622h1v1h-1zM475 622h1v1h-1zM485 622h1v1h-1zM495 622h1v1h-1zM505 622h1v1h-1zM515 622h1v1h-1zM525 622h1v1h-1zM535 622h1v1h-1zM545 622h1v1h-1zM555 622h1v1h-1zM565 622h1v1h-1zM575 622h1v1h-1zM585 622h1v1h-1zM595 622h1v1h-1zM605 622h1v1h-1zM615 622h1v1h-1zM625 622h1v1h-1zM635 622h1v1h-1zM645 622h1v1h-1zM655 622h1v1h-1zM665 622h1v1h-1zM675 622h1v1h-1zM685 622h1v1h-1zM695 622h1v1h-1zM705 622h1v1h-1zM715 622h1v1h-1zM725 622h1v1h-1zM735 622h1v1h-1zM745 622h1v1h-1zM755 622h1v1h-1zM765 622h1v1h-1zM775 622h1v1h-1zM785 622h1v1h-1zM795 622h1v1h-1zM805 622h1v1h-1zM815 622h1v1h-1zM825 622h1v1h-1zM835 622h1v1h-1zM845 622h1v1h-1zM855 622h1v1h-1zM865 622h1v1h-1zM875 622h1v1h-1zM885 622h1v1h-1zM895 622h1v1h-1zM905 622h1v1h-1zM915 622h1v1h-1zM925 622h1v1h-1zM935 622h1v1h-1zM945 622h1v1h-1zM955 622h1v1h-1zM965 622h1v1h-1zM975 622h1v1h-1zM985 622h1v1h-1zM995 622h1v1h-1zM1005 622h1v1h-1zM1015 622h1v1h-1zM1025 622h1v1h-1zM1035 622h1v1h-1zM1045 622h1v1h-1zM1055 622h1v1h-1zM1065 622h1v1h-1zM1075 622h1v1h-1zM1085 622h1v1h-1zM1095 622h1v1h-1zM1105 622h1v1h-1zM1115 622h1v1h-1zM1125 622h1v1h-1zM1135 622h1v1h-1zM1145 622h1v1h-1zM1155 622h1v1h-1zM1165 622h1v1h-1zM1175 622h1v1h-1zM1185 622h1v1h-1zM15 637h1v1h-1zM25 637h1v1h-1zM35 637h1v1h-1zM45 637h1v1h-1zM55 637h1v1h-1zM65 637h1v1h-1zM75 637h1v1h-1zM85 637h1v1h-1zM95 637h1v1h-1zM105 637h1v1h-1zM115 637h1v1h-1zM125 637h1v1h-1zM135 637h1v1h-1zM145 637h1v1h-1zM155 637h1v1h-1zM165 637h1v1h-1zM175 637h1v1h-1zM185 637h1v1h-1zM195 637h1v1h-1zM205 637h1v1h-1zM215 637h1v1h-1zM225 637h1v1h-1zM235 637h1v1h-1zM245 637h1v1h-1zM255 637h1v1h-1zM265 637h1v1h-1zM275 637h1v1h-1zM285 637h1v1h-1zM295 637h1v1h-1zM305 637h1v1h-1zM315 637h1v1h-1zM325 637h1v1h-1zM335 637h1v1h-1zM345 637h1v1h-1zM355 637h1v1h-1zM365 637h1v1h-1zM375 637h1v1h-1zM385 637h1v1h-1zM395 637h1v1h-1zM405 637h1v1h-1zM415 637h1v1h-1zM425 637h1v1h-1zM435 637h1v1h-1zM445 637h1v1h-1zM455 637h1v1h-1zM465 637h1v1h-1zM475 637h1v1h-1zM485 637h1v1h-1zM495 637h1v1h-1zM505 637h1v1h-1zM515 637h1v1h-1zM525 637h1v1h-1zM535 637h1v1h-1zM545 637h1v1h-1zM555 637h1v1h-1zM565 637h1v1h-1zM575 637h1v1h-1zM585 637h1v1h-1zM595 637h1v1h-1zM605 637h1v1h-1zM615 637h1v1h-1zM625 637h1v1h-1zM635 637h1v1h-1zM645 637h1v1h-1zM655 637h1v1h-1zM665 637h1v1h-1zM675 637h1v1h-1zM685 637h1v1h-1zM695 637h1v1h-1zM705 637h1v1h-1zM715 637h1v1h-1zM725 637h1v1h-1zM735 637h1v1h-1zM745 637h1v1h-1zM755 637h1v1h-1zM765 637h1v1h-1zM775 637h1v1h-1zM785 637h1v1h-1zM795 637h1v1h-1zM805 637h1v1h-1zM815 637h1v1h-1zM825 637h1v1h-1zM835 637h1v1h-1zM845 637h1v1h-1zM855 637h1v1h-1zM865 637h1v1h-1zM875 637h1v1h-1zM885 637h1v1h-1zM895 637h1v1h-1zM905 637h1v1h-1zM915 637h1v1h-1zM925 637h1v1h-1zM935 637h1v1h-1zM945 637h1v1h-1zM955 637h1v1h-1zM965 637h1v1h-1zM975 637h1v1h-1zM985 637h1v1h-1zM995 637h1v1h-1zM1005 637h1v1h-1zM1015 637h1v1h-1zM1025 637h1v1h-1zM1035 637h1v1h-1zM1045 637h1v1h-1zM1055 637h1v1h-1zM1065 637h1v1h-1zM1075 637h1v1h-1zM1085 637h1v1h-1zM1095 637h1v1h-1zM1105 637h1v1h-1zM1115 637h1v1h-1zM1125 637h1v1h-1zM1135 637h1v1h-1zM1145 637h1v1h-1zM1155 637h1v1h-1zM1165 637h1v1h-1zM1175 637h1v1h-1zM1185 637h1v1h-1zM35 637h1v1h-1zM35 634h1v1h-1zM35 631h1v1h-1zM35 628h1v1h-1zM35 625h1v1h-1zM35 622h1v1h-1zM35 618h1v1h-1zM35 615h1v1h-1zM35 612h1v1h-1zM35 609h1v1h-1zM35 606h1v1h-1zM35 603h1v1h-1zM35 600h1v1h-1zM35 597h1v1h-1zM35 594h1v1h-1zM35 591h1v1h-1zM85 637h1v1h-1zM85 634h1v1h-1zM85 631h1v1h-1zM85 628h1v1h-1zM85 625h1v1h-1zM85 622h1v1h-1zM85 618h1v1h-1zM85 615h1v1h-1zM85 612h1v1h-1zM85 609h1v1h-1zM85 606h1v1h-1zM85 603h1v1h-1zM85 600h1v1h-1zM85 597h1v1h-1zM85 594h1v1h-1zM85 591h1v1h-1zM135 637h1v1h-1zM135 634h1v1h-1zM135 631h1v1h-1zM135 628h1v1h-1zM135 625h1v1h-1zM135 622h1v1h-1zM135 618h1v1h-1zM135 615h1v1h-1zM135 612h1v1h-1zM135 609h1v1h-1zM135 606h1v1h-1zM135 603h1v1h-1zM135 600h1v1h-1zM135 597h1v1h-1zM135 594h1v1h-1zM135 591h1v1h-1zM185 637h1v1h-1zM185 634h1v1h-1zM185 631h1v1h-1zM185 628h1v1h-1zM185 625h1v1h-1zM185 622h1v1h-1zM185 618h1v1h-1zM185 615h1v1h-1zM185 612h1v1h-1zM185 609h1v1h-1zM185 606h1v1h-1zM185 603h1v1h-1zM185 600h1v1h-1zM185 597h1v1h-1zM185 594h1v1h-1zM185 591h1v1h-1zM225 637h1v1h-1zM225 634h1v1h-1zM225 631h1v1h-1zM225 628h1v1h-1zM225 625h1v1h-1zM225 622h1v1h-1zM225 618h1v1h-1zM225 615h1v1h-1zM225 612h1v1h-1zM225 609h1v1h-1zM225 606h1v1h-1zM225 603h1v1h-1zM225 600h1v1h-1zM225 597h1v1h-1zM225 594h1v1h-1zM225 591h1v1h-1zM275 637h1v1h-1zM275 634h1v1h-1zM275 631h1v1h-1zM275 628h1v1h-1zM275 625h1v1h-1zM275 622h1v1h-1zM275 618h1v1h-1zM275 615h1v1h-1zM275 612h1v1h-1zM275 609h1v1h-1zM275 606h1v1h-1zM275 603h1v1h-1zM275 600h1v1h-1zM275 597h1v1h-1zM275 594h1v1h-1zM275 591h1v1h-1zM325 637h1v1h-1zM325 634h1v1h-1zM325 631h1v1h-1zM325 628h1v1h-1zM325 625h1v1h-1zM325 622h1v1h-1zM325 618h1v1h-1zM325 615h1v1h-1zM325 612h1v1h-1zM325 609h1v1h-1zM325 606h1v1h-1zM325 603h1v1h-1zM325 600h1v1h-1zM325 597h1v1h-1zM325 594h1v1h-1zM325 591h1v1h-1zM375 637h1v1h-1zM375 634h1v1h-1zM375 631h1v1h-1zM375 628h1v1h-1zM375 625h1v1h-1zM375 622h1v1h-1zM375 618h1v1h-1zM375 615h1v1h-1zM375 612h1v1h-1zM375 609h1v1h-1zM375 606h1v1h-1zM375 603h1v1h-1zM375 600h1v1h-1zM375 597h1v1h-1zM375 594h1v1h-1zM375 591h1v1h-1zM425 637h1v1h-1zM425 634h1v1h-1zM425 631h1v1h-1zM425 628h1v1h-1zM425 625h1v1h-1zM425 622h1v1h-1zM425 618h1v1h-1zM425 615h1v1h-1zM425 612h1v1h-1zM425 609h1v1h-1zM425 606h1v1h-1zM425 603h1v1h-1zM425 600h1v1h-1zM425 597h1v1h-1zM425 594h1v1h-1zM425 591h1v1h-1zM475 637h1v1h-1zM475 634h1v1h-1zM475 631h1v1h-1zM475 628h1v1h-1zM475 625h1v1h-1zM475 622h1v1h-1zM475 618h1v1h-1zM475 615h1v1h-1zM475 612h1v1h-1zM475 609h1v1h-1zM475 606h1v1h-1zM475 603h1v1h-1zM475 600h1v1h-1zM475 597h1v1h-1zM475 594h1v1h-1zM475 591h1v1h-1zM525 637h1v1h-1zM525 634h1v1h-1zM525 631h1v1h-1zM525 628h1v1h-1zM525 625h1v1h-1zM525 622h1v1h-1zM525 618h1v1h-1zM525 615h1v1h-1zM525 612h1v1h-1zM525 609h1v1h-1zM525 606h1v1h-1zM525 603h1v1h-1zM525 600h1v1h-1zM525 597h1v1h-1zM525 594h1v1h-1zM525 591h1v1h-1zM575 637h1v1h-1zM575 634h1v1h-1zM575 631h1v1h-1zM575 628h1v1h-1zM575 625h1v1h-1zM575 622h1v1h-1zM575 618h1v1h-1zM575 615h1v1h-1zM575 612h1v1h-1zM575 609h1v1h-1zM575 606h1v1h-1zM575 603h1v1h-1zM575 600h1v1h-1zM575 597h1v1h-1zM575 594h1v1h-1zM575 591h1v1h-1zM625 637h1v1h-1zM625 634h1v1h-1zM625 631h1v1h-1zM625 628h1v1h-1zM625 625h1v1h-1zM625 622h1v1h-1zM625 618h1v1h-1zM625 615h1v1h-1zM625 612h1v1h-1zM625 609h1v1h-1zM625 606h1v1h-1zM625 603h1v1h-1zM625 600h1v1h-1zM625 597h1v1h-1zM625 594h1v1h-1zM625 591h1v1h-1zM675 637h1v1h-1zM675 634h1v1h-1zM675 631h1v1h-1zM675 628h1v1h-1zM675 625h1v1h-1zM675 622h1v1h-1zM675 618h1v1h-1zM675 615h1v1h-1zM675 612h1v1h-1zM675 609h1v1h-1zM675 606h1v1h-1zM675 603h1v1h-1zM675 600h1v1h-1zM675 597h1v1h-1zM675 594h1v1h-1zM675 591h1v1h-1zM725 637h1v1h-1zM725 634h1v1h-1zM725 631h1v1h-1zM725 628h1v1h-1zM725 625h1v1h-1zM725 622h1v1h-1zM725 618h1v1h-1zM725 615h1v1h-1zM725 612h1v1h-1zM725 609h1v1h-1zM725 606h1v1h-1zM725 603h1v1h-1zM725 600h1v1h-1zM725 597h1v1h-1zM725 594h1v1h-1zM725 591h1v1h-1zM775 637h1v1h-1zM775 634h1v1h-1zM775 631h1v1h-1zM775 628h1v1h-1zM775 625h1v1h-1zM775 622h1v1h-1zM775 618h1v1h-1zM775 615h1v1h-1zM775 612h1v1h-1zM775 609h1v1h-1zM775 606h1v1h-1zM775 603h1v1h-1zM775 600h1v1h-1zM775 597h1v1h-1zM775 594h1v1h-1zM775 591h1v1h-1zM825 637h1v1h-1zM825 634h1v1h-1zM825 631h1v1h-1zM825 628h1v1h-1zM825 625h1v1h-1zM825 622h1v1h-1zM825 618h1v1h-1zM825 615h1v1h-1zM825 612h1v1h-1zM825 609h1v1h-1zM825 606h1v1h-1zM825 603h1v1h-1zM825 600h1v1h-1zM825 597h1v1h-1zM825 594h1v1h-1zM825 591h1v1h-1zM875 637h1v1h-1zM875 634h1v1h-1zM875 631h1v1h-1zM875 628h1v1h-1zM875 625h1v1h-1zM875 622h1v1h-1zM875 618h1v1h-1zM875 615h1v1h-1zM875 612h1v1h-1zM875 609h1v1h-1zM875 606h1v1h-1zM875 603h1v1h-1zM875 600h1v1h-1zM875 597h1v1h-1zM875 594h1v1h-1zM875 591h1v1h-1zM925 637h1v1h-1zM925 634h1v1h-1zM925 631h1v1h-1zM925 628h1v1h-1zM925 625h1v1h-1zM925 622h1v1h-1zM925 618h1v1h-1zM925 615h1v1h-1zM925 612h1v1h-1zM925 609h1v1h-1zM925 606h1v1h-1zM925 603h1v1h-1zM925 600h1v1h-1zM925 597h1v1h-1zM925 594h1v1h-1zM925 591h1v1h-1zM975 637h1v1h-1zM975 634h1v1h-1zM975 631h1v1h-1zM975 628h1v1h-1zM975 625h1v1h-1zM975 622h1v1h-1zM975 618h1v1h-1zM975 615h1v1h-1zM975 612h1v1h-1zM975 609h1v1h-1zM975 606h1v1h-1zM975 603h1v1h-1zM975 600h1v1h-1zM975 597h1v1h-1zM975 594h1v1h-1zM975 591h1v1h-1zM1025 637h1v1h-1zM1025 634h1v1h-1zM1025 631h1v1h-1zM1025 628h1v1h-1zM1025 625h1v1h-1zM1025 622h1v1h-1zM1025 618h1v1h-1zM1025 615h1v1h-1zM1025 612h1v1h-1zM1025 609h1v1h-1zM1025 606h1v1h-1zM1025 603h1v1h-1zM1025 600h1v1h-1zM1025 597h1v1h-1zM1025 594h1v1h-1zM1025 591h1v1h-1zM1075 637h1v1h-1zM1075 634h1v1h-1zM1075 631h1v1h-1zM1075 628h1v1h-1zM1075 625h1v1h-1zM1075 622h1v1h-1zM1075 618h1v1h-1zM1075 615h1v1h-1zM1075 612h1v1h-1zM1075 609h1v1h-1zM1075 606h1v1h-1zM1075 603h1v1h-1zM1075 600h1v1h-1zM1075 597h1v1h-1zM1075 594h1v1h-1zM1075 591h1v1h-1zM1125 637h1v1h-1zM1125 634h1v1h-1zM1125 631h1v1h-1zM1125 628h1v1h-1zM1125 625h1v1h-1zM1125 622h1v1h-1zM1125 618h1v1h-1zM1125 615h1v1h-1zM1125 612h1v1h-1zM1125 609h1v1h-1zM1125 606h1v1h-1zM1125 603h1v1h-1zM1125 600h1v1h-1zM1125 597h1v1h-1zM1125 594h1v1h-1zM1125 591h1v1h-1zM1175 637h1v1h-1zM1175 634h1v1h-1zM1175 631h1v1h-1zM1175 628h1v1h-1zM1175 625h1v1h-1zM1175 622h1v1h-1zM1175 618h1v1h-1zM1175 615h1v1h-1zM1175 612h1v1h-1zM1175 609h1v1h-1zM1175 606h1v1h-1zM1175 603h1v1h-1zM1175 600h1v1h-1zM1175 597h1v1h-1zM1175 594h1v1h-1zM1175 591h1v1h-1z" fill="#000"/>
<path d="M1 637h2v1h-2zM1213 637h2v1h-2zM1 634h2v1h-2zM1213 634h2v1h-2zM1 631h2v1h-2zM1213 631h2v1h-2zM1 628h2v1h-2zM1213 628h2v1h-2zM1 625h2v1h-2zM1213 625h2v1h-2zM1 622h2v1h-2zM1213 622h2v1h-2zM1 618h2v1h-2zM1213 618h2v1h-2zM1 615h2v1h-2zM1213 615h2v1h-2zM1 612h2v1h-2zM1213 612h2v1h-2zM1 609h2v1h-2zM1213 609h2v1h-2zM1 606h2v1h-2zM1213 606h2v1h-2zM1 603h2v1h-2zM1213 603h2v1h-2zM1 600h2v1h-2zM1213 600h2v1h-2zM1 597h2v1h-2zM1213 597h2v1h-2zM1 594h2v1h-2zM1213 594h2v1h-2zM1 591h2v1h-2zM1213 591h2v1h-2zM1 591h5v1h-5zM1210 591h5v1h-5zM1 606h5v1h-5zM1210 606h5v1h-5zM1 622h5v1h-5zM1210 622h5v1h-5zM1 637h5v1h-5zM1210 637h5v1h-5z" fill="#000"/>
<path d="M15 671h1v1h-1zM25 671h1v1h-1zM35 671h1v1h-1zM45 671h1v1h-1zM55 671h1v1h-1zM65 671h1v1h-1zM75 671h1v1h-1zM85 671h1v1h-1zM95 671h1v1h-1zM105 671h1v1h-1zM115 671h1v1h-1zM125 671h1v1h-1zM135 671h1v1h-1zM145 671h1v1h-1zM155 671h1v1h-1zM165 671h1v1h-1zM175 671h1v1h-1zM185 671h1v1h-1zM195 671h1v1h-1zM205 671h1v1h-1zM215 671h1v1h-1zM225 671h1v1h-1zM235 671h1v1h-1zM245 671h1v1h-1zM255 671h1v1h-1zM265 671h1v1h-1zM275 671h1v1h-1zM285 671h1v1h-1zM295 671h1v1h-1zM305 671h1v1h-1zM315 671h1v1h-1zM325 671h1v1h-1zM335 671h1v1h-1zM345 671h1v1h-1zM355 671h1v1h-1zM365 671h1v1h-1zM375 671h1v1h-1zM385 671h1v1h-1zM395 671h1v1h-1zM405 671h1v1h-1zM415 671h1v1h-1zM425 671h1v1h-1zM435 671h1v1h-1zM445 671h1v1h-1zM455 671h1v1h-1zM465 671h1v1h-1zM475 671h1v1h-1zM485 671h1v1h-1zM495 671h1v1h-1zM505 671h1v1h-1zM515 671h1v1h-1zM525 671h1v1h-1zM535 671h1v1h-1zM545 671h1v1h-1zM555 671h1v1h-1zM565 671h1v1h-1zM575 671h1v1h-1zM585 671h1v1h-1zM595 671h1v1h-1zM605 671h1v1h-1zM615 671h1v1h-1zM625 671h1v1h-1zM635 671h1v1h-1zM645 671h1v1h-1zM655 671h1v1h-1zM665 671h1v1h-1zM675 671h1v1h-1zM685 671h1v1h-1zM695 671h1v1h-1zM705 671h1v1h-1zM715 671h1v1h-1zM725 671h1v1h-1zM735 671h1v1h-1zM745 671h1v1h-1zM755 671h1v1h-1zM765 671h1v1h-1zM775 671h1v1h-1zM785 671h1v1h-1zM795 671h1v1h-1zM805 671h1v1h-1zM815 671h1v1h-1zM825 671h1v1h-1zM835 671h1v1h-1zM845 671h1v1h-1zM855 671h1v1h-1zM865 671h1v1h-1zM875 671h1v1h-1zM885 671h1v1h-1zM895 671h1v1h-1zM905 671h1v1h-1zM915 671h1v1h-1zM925 671h1v1h-1zM935 671h1v1h-1zM945 671h1v1h-1zM955 671h1v1h-1zM965 671h1v1h-1zM975 671h1v1h-1zM985 671h1v1h-1zM995 671h1v1h-1zM1005 671h1v1h-1zM1015 671h1v1h-1zM1025 671h1v1h-1zM1035 671h1v1h-1zM1045 671h1v1h-1zM1055 671h1v1h-1zM1065 671h1v1h-1zM1075 671h1v1h-1zM1085 671h1v1h-1zM1095 671h1v1h-1zM1105 671h1v1h-1zM1115 671h1v1h-1zM1125 671h1v1h-1zM1135 671h1v1h-1zM1145 671h1v1h-1zM1155 671h1v1h-1zM1165 671h1v1h-1zM1175 671h1v1h-1zM1185 671h1v1h-1zM15 688h1v1h-1zM25 688h1v1h-1zM35 688h1v1h-1zM45 688h1v1h-1zM55 688h1v1h-1zM65 688h1v1h-1zM75 688h1v1h-1zM85 688h1v1h-1zM95 688h1v1h-1zM105 688h1v1h-1zM115 688h1v1h-1zM125 688h1v1h-1zM135 688h1v1h-1zM145 688h1v1h-1zM155 688h1v1h-1zM165 688h1v1h-1zM175 688h1v1h-1zM185 688h1v1h-1zM195 688h1v1h-1zM205 688h1v1h-1zM215 688h1v1h-1zM225 688h1v1h-1zM235 688h1v1h-1zM245 688h1v1h-1zM255 688h1v1h-1zM265 688h1v1h-1zM275 688h1v1h-1zM285 688h1v1h-1zM295 688h1v1h-1zM305 688h1v1h-1zM315 688h1v1h-1zM325 688h1v1h-1zM335 688h1v1h-1zM345 688h1v1h-1zM355 688h1v1h-1zM365 688h1v1h-1zM375 688h1v1h-1zM385 688h1v1h-1zM395 688h1v1h-1zM405 688h1v1h-1zM415 688h1v1h-1zM425 688h1v1h-1zM435 688h1v1h-1zM445 688h1v1h-1zM455 688h1v1h-1zM465 688h1v1h-1zM475 688h1v1h-1zM485 688h1v1h-1zM495 688h1v1h-1zM505 688h1v1h-1zM515 688h1v1h-1zM525 688h1v1h-1zM535 688h1v1h-1zM545 688h1v1h-1zM555 688h1v1h-1zM565 688h1v1h-1zM575 688h1v1h-1zM585 688h1v1h-1zM595 688h1v1h-1zM605 688h1v1h-1zM615 688h1v1h-1zM625 688h1v1h-1zM635 688h1v1h-1zM645 688h1v1h-1zM655 688h1v1h-1zM665 688h1v1h-1zM675 688h1v1h-1zM685 688h1v1h-1zM695 688h1v1h-1zM705 688h1v1h-1zM715 688h1v1h-1zM725 688h1v1h-1zM735 688h1v1h-1zM745 688h1v1h-1zM755 688h1v1h-1zM765 688h1v1h-1zM775 688h1v1h-1zM785 688h1v1h-1zM795 688h1v1h-1zM805 688h1v1h-1zM815 688h1v1h-1zM825 688h1v1h-1zM835 688h1v1h-1zM845 688h1v1h-1zM855 688h1v1h-1zM865 688h1v1h-1zM875 688h1v1h-1zM885 688h1v1h-1zM895 688h1v1h-1zM905 688h1v1h-1zM915 688h1v1h-1zM925 688h1v1h-1zM935 688h1v1h-1zM945 688h1v1h-1zM955 688h1v1h-1zM965 688h1v1h-1zM975 688h1v1h-1zM985 688h1v1h-1zM995 688h1v1h-1zM1005 688h1v1h-1zM1015 688h1v1h-1zM1025 688h1v1h-1zM1035 688h1v1h-1zM1045 688h1v1h-1zM1055 688h1v1h-1zM1065 688h1v1h-1zM1075 688h1v1h-1zM1085 688h1v1h-1zM1095 688h1v1h-1zM1105 688h1v1h-1zM1115 688h1v1h-1zM1125 688h1v1h-1zM1135 688h1v1h-1zM1145 688h1v1h-1zM1155 688h1v1h-1zM1165 688h1v1h-1zM1175 688h1v1h-1zM1185 688h1v1h-1zM15 705h1v1h-1zM25 705h1v1h-1zM35 705h1v1h-1zM45 705h1v1h-1zM55 705h1v1h-1zM65 705h1v1h-1zM75 705h1v1h-1zM85 705h1v1h-1zM95 705h1v1h-1zM105 705h1v1h-1zM115 705h1v1h-1zM125 705h1v1h-1zM135 705h1v1h-1zM145 705h1v1h-1zM155 705h1v1h-1zM165 705h1v1h-1zM175 705h1v1h-1zM185 705h1v1h-1zM195 705h1v1h-1zM205 705h1v1h-1zM215 705h1v1h-1zM225 705h1v1h-1zM235 705h1v1h-1zM245 705h1v1h-1zM255 705h1v1h-1zM265 705h1v1h-1zM275 705h1v1h-1zM285 705h1v1h-1zM295 705h1v1h-1zM305 705h1v1h-1zM315 705h1v1h-1zM325 705h1v1h-1zM335 705h1v1h-1zM345 705h1v1h-1zM355 705h1v1h-1zM365 705h1v1h-1zM375 705h1v1h-1zM385 705h1v1h-1zM395 705h1v1h-1zM405 705h1v1h-1zM415 705h1v1h-1zM425 705h1v1h-1zM435 705h1v1h-1zM445 705h1v1h-1zM455 705h1v1h-1zM465 705h1v1h-1zM475 705h1v1h-1zM485 705h1v1h-1zM495 705h1v1h-1zM505 705h1v1h-1zM515 705h1v1h-1zM525 705h1v1h-1zM535 705h1v1h-1zM545 705h1v1h-1zM555 705h1v1h-1zM565 705h1v1h-1zM575 705h1v1h-1zM585 705h1v1h-1zM595 705h1v1h-1zM605 705h1v1h-1zM615 705h1v1h-1zM625 705h1v1h-1zM635 705h1v1h-1zM645 705h1v1h-1zM655 705h1v1h-1zM665 705h1v1h-1zM675 705h1v1h-1zM685 705h1v1h-1zM695 705h1v1h-1zM705 705h1v1h-1zM715 705h1v1h-1zM725 705h1v1h-1zM735 705h1v1h-1zM745 705h1v1h-1zM755 705h1v1h-1zM765 705h1v1h-1zM775 705h1v1h-1zM785 705h1v1h-1zM795 705h1v1h-1zM805 705h1v1h-1zM815 705h1v1h-1zM825 705h1v1h-1zM835 705h1v1h-1zM845 705h1v1h-1zM855 705h1v1h-1zM865 705h1v1h-1zM875 705h1v1h-1zM885 705h1v1h-1zM895 705h1v1h-1zM905 705h1v1h-1zM915 705h1v1h-1zM925 705h1v1h-1zM935 705h1v1h-1zM945 705h1v1h-1zM955 705h1v1h-1zM965 705h1v1h-1zM975 705h1v1h-1zM985 705h1v1h-1zM995 705h1v1h-1zM1005 705h1v1h-1zM1015 705h1v1h-1zM1025 705h1v1h-1zM1035 705h1v1h-1zM1045 705h1v1h-1zM1055 705h1v1h-1zM1065 705h1v1h-1zM1075 705h1v1h-1zM1085 705h1v1h-1zM1095 705h1v1h-1zM1105 705h1v1h-1zM1115 705h1v1h-1zM1125 705h1v1h-1zM1135 705h1v1h-1zM1145 705h1v1h-1zM1155 705h1v1h-1zM1165 705h1v1h-1zM1175 705h1v1h-1zM1185 705h1v1h-1zM35 719h1v1h-1zM35 715h1v1h-1zM35 712h1v1h-1zM35 708h1v1h-1zM35 705h1v1h-1zM35 702h1v1h-1zM35 698h1v1h-1zM35 695h1v1h-1zM35 691h1v1h-1zM35 688h1v1h-1zM35 685h1v1h-1zM35 681h1v1h-1zM35 678h1v1h-1zM35 674h1v1h-1zM35 671h1v1h-1zM85 719h1v1h-1zM85 715h1v1h-1zM85 712h1v1h-1zM85 708h1v1h-1zM85 705h1v1h-1zM85 702h1v1h-1zM85 698h1v1h-1zM85 695h1v1h-1zM85 691h1v1h-1zM85 688h1v1h-1zM85 685h1v1h-1zM85 681h1v1h-1zM85 678h1v1h-1zM85 674h1v1h-1zM85 671h1v1h-1zM135 719h1v1h-1zM135 715h1v1h-1zM135 712h1v1h-1zM135 708h1v1h-1zM135 705h1v1h-1zM135 702h1v1h-1zM135 698h1v1h-1zM135 695h1v1h-1zM135 691h1v1h-1zM135 688h1v1h-1zM135 685h1v1h-1zM135 681h1v1h-1zM135 678h1v1h-1zM135 674h1v1h-1zM135 671h1v1h-1zM185 719h1v1h-1zM185 715h1v1h-1zM185 712h1v1h-1zM185 708h1v1h-1zM185 705h1v1h-1zM185 702h1v1h-1zM185 698h1v1h-1zM185 695h1v1h-1zM185 691h1v1h-1zM185 688h1v1h-1zM185 685h1v1h-1zM185 681h1v1h-1zM185 678h1v1h-1zM185 674h1v1h-1zM185 671h1v1h-1zM225 719h1v1h-1zM225 715h1v1h-1zM225 712h1v1h-1zM225 708h1v1h-1zM225 705h1v1h-1zM225 702h1v1h-1zM225 698h1v1h-1zM225 695h1v1h-1zM225 691h1v1h-1zM225 688h1v1h-1zM225 685h1v1h-1zM225 681h1v1h-1zM225 678h1v1h-1zM225 674h1v1h-1zM225 671h1v1h-1zM275 719h1v1h-1zM275 715h1v1h-1zM275 712h1v1h-1zM275 708h1v1h-1zM275 705h1v1h-1zM275 702h1v1h-1zM275 698h1v1h-1zM275 695h1v1h-1zM275 691h1v1h-1zM275 688h1v1h-1zM275 685h1v1h-1zM275 681h1v1h-1zM275 678h1v1h-1zM275 674h1v1h-1zM275 671h1v1h-1zM325 719h1v1h-1zM325 715h1v1h-1zM325 712h1v1h-1zM325 708h1v1h-1zM325 705h1v1h-1zM325 702h1v1h-1zM325 698h1v1h-1zM325 695h1v1h-1zM325 691h1v1h-1zM325 688h1v1h-1zM325 685h1v1h-1zM325 681h1v1h-1zM325 678h1v1h-1zM325 674h1v1h-1zM325 671h1v1h-1zM375 719h1v1h-1zM375 715h1v1h-1zM375 712h1v1h-1zM375 708h1v1h-1zM375 705h1v1h-1zM375 702h1v1h-1zM375 698h1v1h-1zM375 695h1v1h-1zM375 691h1v1h-1zM375 688h1v1h-1zM375 685h1v1h-1zM375 681h1v1h-1zM375 678h1v1h-1zM375 674h1v1h-1zM375 671h1v1h-1zM425 719h1v1h-1zM425 715h1v1h-1zM425 712h1v1h-1zM425 708h1v1h-1zM425 705h1v1h-1zM425 702h1v1h-1zM425 698h1v1h-1zM425 695h1v1h-1zM425 691h1v1h-1zM425 688h1v1h-1zM425 685h1v1h-1zM425 681h1v1h-1zM425 678h1v1h-1zM425 674h1v1h-1zM425 671h1v1h-1zM475 719h1v1h-1zM475 715h1v1h-1zM475 712h1v1h-1zM475 708h1v1h-1zM475 705h1v1h-1zM475 702h1v1h-1zM475 698h1v1h-1zM475 695h1v1h-1zM475 691h1v1h-1zM475 688h1v1h-1zM475 685h1v1h-1zM475 681h1v1h-1zM475 678h1v1h-1zM475 674h1v1h-1zM475 671h1v1h-1zM525 719h1v1h-1zM525 715h1v1h-1zM525 712h1v1h-1zM525 708h1v1h-1zM525 705h1v1h-1zM525 702h1v1h-1zM525 698h1v1h-1zM525 695h1v1h-1zM525 691h1v1h-1zM525 688h1v1h-1zM525 685h1v1h-1zM525 681h1v1h-1zM525 678h1v1h-1zM525 674h1v1h-1zM525 671h1v1h-1zM575 719h1v1h-1zM575 715h1v1h-1zM575 712h1v1h-1zM575 708h1v1h-1zM575 705h1v1h-1zM575 702h1v1h-1zM575 698h1v1h-1zM575 695h1v1h-1zM575 691h1v1h-1zM575 688h1v1h-1zM575 685h1v1h-1zM575 681h1v1h-1zM575 678h1v1h-1zM575 674h1v1h-1zM575 671h1v1h-1zM625 719h1v1h-1zM625 715h1v1h-1zM625 712h1v1h-1zM625 708h1v1h-1zM625 705h1v1h-1zM625 702h1v1h-1zM625 698h1v1h-1zM625 695h1v1h-1zM625 691h1v1h-1zM625 688h1v1h-1zM625 685h1v1h-1zM625 681h1v1h-1zM625 678h1v1h-1zM625 674h1v1h-1zM625 671h1v1h-1zM675 719h1v1h-1zM675 715h1v1h-1zM675 712h1v1h-1zM675 708h1v1h-1zM675 705h1v1h-1zM675 702h1v1h-1zM675 698h1v1h-1zM675 695h1v1h-1zM675 691h1v1h-1zM675 688h1v1h-1zM675 685h1v1h-1zM675 681h1v1h-1zM675 678h1v1h-1zM675 674h1v1h-1zM675 671h1v1h-1zM725 719h1v1h-1zM725 715h1v1h-1zM725 712h1v1h-1zM725 708h1v1h-1zM725 705h1v1h-1zM725 702h1v1h-1zM725 698h1v1h-1zM725 695h1v1h-1zM725 691h1v1h-1zM725 688h1v1h-1zM725 685h1v1h-1zM725 681h1v1h-1zM725 678h1v1h-1zM725 674h1v1h-1zM725 671h1v1h-1zM775 719h1v1h-1zM775 715h1v1h-1zM775 712h1v1h-1zM775 708h1v1h-1zM775 705h1v1h-1zM775 702h1v1h-1zM775 698h1v1h-1zM775 695h1v1h-1zM775 691h1v1h-1zM775 688h1v1h-1zM775 685h1v1h-1zM775 681h1v1h-1zM775 678h1v1h-1zM775 674h1v1h-1zM775 671h1v1h-1zM825 719h1v1h-1zM825 715h1v1h-1zM825 712h1v1h-1zM825 708h1v1h-1zM825 705h1v1h-1zM825 702h1v1h-1zM825 698h1v1h-1zM825 695h1v1h-1zM825 691h1v1h-1zM825 688h1v1h-1zM825 685h1v1h-1zM825 681h1v1h-1zM825 678h1v1h-1zM825 674h1v1h-1zM825 671h1v1h-1zM875 719h1v1h-1zM875 715h1v1h-1zM875 712h1v1h-1zM875 708h1v1h-1zM875 705h1v1h-1zM875 702h1v1h-1zM875 698h1v1h-1zM875 695h1v1h-1zM875 691h1v1h-1zM875 688h1v1h-1zM875 685h1v1h-1zM875 681h1v1h-1zM875 678h1v1h-1zM875 674h1v1h-1zM875 671h1v1h-1zM925 719h1v1h-1zM925 715h1v1h-1zM925 712h1v1h-1zM925 708h1v1h-1zM925 705h1v1h-1zM925 702h1v1h-1zM925 698h1v1h-1zM925 695h1v1h-1zM925 691h1v1h-1zM925 688h1v1h-1zM925 685h1v1h-1zM925 681h1v1h-1zM925 678h1v1h-1zM925 674h1v1h-1zM925 671h1v1h-1zM975 719h1v1h-1zM975 715h1v1h-1zM975 712h1v1h-1zM975 708h1v1h-1zM975 705h1v1h-1zM975 702h1v1h-1zM975 698h1v1h-1zM975 695h1v1h-1zM975 691h1v1h-1zM975 688h1v1h-1zM975 685h1v1h-1zM975 681h1v1h-1zM975 678h1v1h-1zM975 674h1v1h-1zM975 671h1v1h-1zM1025 719h1v1h-1zM1025 715h1v1h-1zM1025 712h1v1h-1zM1025 708h1v1h-1zM1025 705h1v1h-1zM1025 702h1v1h-1zM1025 698h1v1h-1zM1025 695h1v1h-1zM1025 691h1v1h-1zM1025 688h1v1h-1zM1025 685h1v1h-1zM1025 681h1v1h-1zM1025 678h1v1h-1zM1025 674h1v1h-1zM1025 671h1v1h-1zM1075 719h1v1h-1zM1075 715h1v1h-1zM1075 712h1v1h-1zM1075 708h1v1h-1zM1075 705h1v1h-1zM1075 702h1v1h-1zM1075 698h1v1h-1zM1075 695h1v1h-1zM1075 691h1v1h-1zM1075 688h1v1h-1zM1075 685h1v1h-1zM1075 681h1v1h-1zM1075 678h1v1h-1zM1075 674h1v1h-1zM1075 671h1v1h-1zM1125 719h1v1h-1zM1125 715h1v1h-1zM1125 712h1v1h-1zM1125 708h1v1h-1zM1125 705h1v1h-1zM1125 702h1v1h-1zM1125 698h1v1h-1zM1125 695h1v1h-1zM1125 691h1v1h-1zM1125 688h1v1h-1zM1125 685h1v1h-1zM1125 681h1v1h-1zM1125 678h1v1h-1zM1125 674h1v1h-1zM1125 671h1v1h-1zM1175 719h1v1h-1zM1175 715h1v1h-1zM1175 712h1v1h-1zM1175 708h1v1h-1zM1175 705h1v1h-1zM1175 702h1v1h-1zM1175 698h1v1h-1zM1175 695h1v1h-1zM1175 691h1v1h-1zM1175 688h1v1h-1zM1175 685h1v1h-1zM1175 681h1v1h-1zM1175 678h1v1h-1zM1175 674h1v1h-1zM1175 671h1v1h-1z" fill="#000"/>
<path d="M1 719h2v1h-2zM1213 719h2v1h-2zM1 715h2v1h-2zM1213 715h2v1h-2zM1 712h2v1h-2zM1213 712h2v1h-2zM1 708h2v1h-2zM1213 708h2v1h-2zM1 705h2v1h-2zM1213 705h2v1h-2zM1 702h2v1h-2zM1213 702h2v1h-2zM1 698h2v1h-2zM1213 698h2v1h-2zM1 695h2v1h-2zM1213 695h2v1h-2zM1 691h2v1h-2zM1213 691h2v1h-2zM1 688h2v1h-2zM1213 688h2v1h-2zM1 685h2v1h-2zM1213 685h2v1h-2zM1 681h2v1h-2zM1213 681h2v1h-2zM1 678h2v1h-2zM1213 678h2v1h-2zM1 674h2v1h-2zM1213 674h2v1h-2zM1 671h2v1h-2zM1213 671h2v1h-2zM1 671h5v1h-5zM1210 671h5v1h-5zM1 688h5v1h-5zM1210 688h5v1h-5zM1 705h5v1h-5zM1210 705h5v1h-5z" fill="#000"/>
<path d="M15 742h1v1h-1zM25 742h1v1h-1zM35 742h1v1h-1zM45 742h1v1h-1zM55 742h1v1h-1zM65 742h1v1h-1zM75 742h1v1h-1zM85 742h1v1h-1zM95 742h1v1h-1zM105 742h1v1h-1zM115 742h1v1h-1zM125 742h1v1h-1zM135 742h1v1h-1zM145 742h1v1h-1zM155 742h1v1h-1zM165 742h1v1h-1zM175 742h1v1h-1zM185 742h1v1h-1zM195 742h1v1h-1zM205 742h1v1h-1zM215 742h1v1h-1zM225 742h1v1h-1zM235 742h1v1h-1zM245 742h1v1h-1zM255 742h1v1h-1zM265 742h1v1h-1zM275 742h1v1h-1zM285 742h1v1h-1zM295 742h1v1h-1zM305 742h1v1h-1zM315 742h1v1h-1zM325 742h1v1h-1zM335 742h1v1h-1zM345 742h1v1h-1zM355 742h1v1h-1zM365 742h1v1h-1zM375 742h1v1h-1zM385 742h1v1h-1zM395 742h1v1h-1zM405 742h1v1h-1zM415 742h1v1h-1zM425 742h1v1h-1zM435 742h1v1h-1zM445 742h1v1h-1zM455 742h1v1h-1zM465 742h1v1h-1zM475 742h1v1h-1zM485 742h1v1h-1zM495 742h1v1h-1zM505 742h1v1h-1zM515 742h1v1h-1zM525 742h1v1h-1zM535 742h1v1h-1zM545 742h1v1h-1zM555 742h1v1h-1zM565 742h1v1h-1zM575 742h1v1h-1zM585 742h1v1h-1zM595 742h1v1h-1zM605 742h1v1h-1zM615 742h1v1h-1zM625 742h1v1h-1zM635 742h1v1h-1zM645 742h1v1h-1zM655 742h1v1h-1zM665 742h1v1h-1zM675 742h1v1h-1zM685 742h1v1h-1zM695 742h1v1h-1zM705 742h1v1h-1zM715 742h1v1h-1zM725 742h1v1h-1zM735 742h1v1h-1zM745 742h1v1h-1zM755 742h1v1h-1zM765 742h1v1h-1zM775 742h1v1h-1zM785 742h1v1h-1zM795 742h1v1h-1zM805 742h1v1h-1zM815 742h1v1h-1zM825 742h1v1h-1zM835 742h1v1h-1zM845 742h1v1h-1zM855 742h1v1h-1zM865 742h1v1h-1zM875 742h1v1h-1zM885 742h1v1h-1zM895 742h1v1h-1zM905 742h1v1h-1zM915 742h1v1h-1zM925 742h1v1h-1zM935 742h1v1h-1zM945 742h1v1h-1zM955 742h1v1h-1zM965 742h1v1h-1zM975 742h1v1h-1zM985 742h1v1h-1zM995 742h1v1h-1zM1005 742h1v1h-1zM1015 742h1v1h-1zM1025 742h1v1h-1zM1035 742h1v1h-1zM1045 742h1v1h-1zM1055 742h1v1h-1zM1065 742h1v1h-1zM1075 742h1v1h-1zM1085 742h1v1h-1zM1095 742h1v1h-1zM1105 742h1v1h-1zM1115 742h1v1h-1zM1125 742h1v1h-1zM1135 742h1v1h-1zM1145 742h1v1h-1zM1155 742h1v1h-1zM1165 742h1v1h-1zM1175 742h1v1h-1zM1185 742h1v1h-1zM15 776h1v1h-1zM25 776h1v1h-1zM35 776h1v1h-1zM45 776h1v1h-1zM55 776h1v1h-1zM65 776h1v1h-1zM75 776h1v1h-1zM85 776h1v1h-1zM95 776h1v1h-1zM105 776h1v1h-1zM115 776h1v1h-1zM125 776h1v1h-1zM135 776h1v1h-1zM145 776h1v1h-1zM155 776h1v1h-1zM165 776h1v1h-1zM175 776h1v1h-1zM185 776h1v1h-1zM195 776h1v1h-1zM205 776h1v1h-1zM215 776h1v1h-1zM225 776h1v1h-1zM235 776h1v1h-1zM245 776h1v1h-1zM255 776h1v1h-1zM265 776h1v1h-1zM275 776h1v1h-1zM285 776h1v1h-1zM295 776h1v1h-1zM305 776h1v1h-1zM315 776h1v1h-1zM325 776h1v1h-1zM335 776h1v1h-1zM345 776h1v1h-1zM355 776h1v1h-1zM365 776h1v1h-1zM375 776h1v1h-1zM385 776h1v1h-1zM395 776h1v1h-1zM405 776h1v1h-1zM415 776h1v1h-1zM425 776h1v1h-1zM435 776h1v1h-1zM445 776h1v1h-1zM455 776h1v1h-1zM465 776h1v1h-1zM475 776h1v1h-1zM485 776h1v1h-1zM495 776h1v1h-1zM505 776h1v1h-1zM515 776h1v1h-1zM525 776h1v1h-1zM535 776h1v1h-1zM545 776h1v1h-1zM555 776h1v1h-1zM565 776h1v1h-1zM575 776h1v1h-1zM585 776h1v1h-1zM595 776h1v1h-1zM605 776h1v1h-1zM615 776h1v1h-1zM625 776h1v1h-1zM635 776h1v1h-1zM645 776h1v1h-1zM655 776h1v1h-1zM665 776h1v1h-1zM675 776h1v1h-1zM685 776h1v1h-1zM695 776h1v1h-1zM705 776h1v1h-1zM715 776h1v1h-1zM725 776h1v1h-1zM735 776h1v1h-1zM745 776h1v1h-1zM755 776h1v1h-1zM765 776h1v1h-1zM775 776h1v1h-1zM785 776h1v1h-1zM795 776h1v1h-1zM805 776h1v1h-1zM815 776h1v1h-1zM825 776h1v1h-1zM835 776h1v1h-1zM845 776h1v1h-1zM855 776h1v1h-1zM865 776h1v1h-1zM875 776h1v1h-1zM885 776h1v1h-1zM895 776h1v1h-1zM905 776h1v1h-1zM915 776h1v1h-1zM925 776h1v1h-1zM935 776h1v1h-1zM945 776h1v1h-1zM955 776h1v1h-1zM965 776h1v1h-1zM975 776h1v1h-1zM985 776h1v1h-1zM995 776h1v1h-1zM1005 776h1v1h-1zM1015 776h1v1h-1zM1025 776h1v1h-1zM1035 776h1v1h-1zM1045 776h1v1h-1zM1055 776h1v1h-1zM1065 776h1v1h-1zM1075 776h1v1h-1zM1085 776h1v1h-1zM1095 776h1v1h-1zM1105 776h1v1h-1zM1115 776h1v1h-1zM1125 776h1v1h-1zM1135 776h1v1h-1zM1145 776h1v1h-1zM1155 776h1v1h-1zM1165 776h1v1h-1zM1175 776h1v1h-1zM1185 776h1v1h-1zM15 809h1v1h-1zM25 809h1v1h-1zM35 809h1v1h-1zM45 809h1v1h-1zM55 809h1v1h-1zM65 809h1v1h-1zM75 809h1v1h-1zM85 809h1v1h-1zM95 809h1v1h-1zM105 809h1v1h-1zM115 809h1v1h-1zM125 809h1v1h-1zM135 809h1v1h-1zM145 809h1v1h-1zM155 809h1v1h-1zM165 809h1v1h-1zM175 809h1v1h-1zM185 809h1v1h-1zM195 809h1v1h-1zM205 809h1v1h-1zM215 809h1v1h-1zM225 809h1v1h-1zM235 809h1v1h-1zM245 809h1v1h-1zM255 809h1v1h-1zM265 809h1v1h-1zM275 809h1v1h-1zM285 809h1v1h-1zM295 809h1v1h-1zM305 809h1v1h-1zM315 809h1v1h-1zM325 809h1v1h-1zM335 809h1v1h-1zM345 809h1v1h-1zM355 809h1v1h-1zM365 809h1v1h-1zM375 809h1v1h-1zM385 809h1v1h-1zM395 809h1v1h-1zM405 809h1v1h-1zM415 809h1v1h-1zM425 809h1v1h-1zM435 809h1v1h-1zM445 809h1v1h-1zM455 809h1v1h-1zM465 809h1v1h-1zM475 809h1v1h-1zM485 809h1v1h-1zM495 809h1v1h-1zM505 809h1v1h-1zM515 809h1v1h-1zM525 809h1v1h-1zM535 809h1v1h-1zM545 809h1v1h-1zM555 809h1v1h-1zM565 809h1v1h-1zM575 809h1v1h-1zM585 809h1v1h-1zM595 809h1v1h-1zM605 809h1v1h-1zM615 809h1v1h-1zM625 809h1v1h-1zM635 809h1v1h-1zM645 809h1v1h-1zM655 809h1v1h-1zM665 809h1v1h-1zM675 809h1v1h-1zM685 809h1v1h-1zM695 809h1v1h-1zM705 809h1v1h-1zM715 809h1v1h-1zM725 809h1v1h-1zM735 809h1v1h-1zM745 809h1v1h-1zM755 809h1v1h-1zM765 809h1v1h-1zM775 809h1v1h-1zM785 809h1v1h-1zM795 809h1v1h-1zM805 809h1v1h-1zM815 809h1v1h-1zM825 809h1v1h-1zM835 809h1v1h-1zM845 809h1v1h-1zM855 809h1v1h-1zM865 809h1v1h-1zM875 809h1v1h-1zM885 809h1v1h-1zM895 809h1v1h-1zM905 809h1v1h-1zM915 809h1v1h-1zM925 809h1v1h-1zM935 809h1v1h-1zM945 809h1v1h-1zM955 809h1v1h-1zM965 809h1v1h-1zM975 809h1v1h-1zM985 809h1v1h-1zM995 809h1v1h-1zM1005 809h1v1h-1zM1015 809h1v1h-1zM1025 809h1v1h-1zM1035 809h1v1h-1zM1045 809h1v1h-1zM1055 809h1v1h-1zM1065 809h1v1h-1zM1075 809h1v1h-1zM1085 809h1v1h-1zM1095 809h1v1h-1zM1105 809h1v1h-1zM1115 809h1v1h-1zM1125 809h1v1h-1zM1135 809h1v1h-1zM1145 809h1v1h-1zM1155 809h1v1h-1zM1165 809h1v1h-1zM1175 809h1v1h-1zM1185 809h1v1h-1zM35 809h1v1h-1zM35 806h1v1h-1zM35 802h1v1h-1zM35 799h1v1h-1zM35 796h1v1h-1zM35 792h1v1h-1zM35 789h1v1h-1zM35 786h1v1h-1zM35 782h1v1h-1zM35 779h1v1h-1zM35 776h1v1h-1zM35 772h1v1h-1zM35 769h1v1h-1zM35 765h1v1h-1zM35 762h1v1h-1zM35 759h1v1h-1zM35 755h1v1h-1zM35 752h1v1h-1zM35 749h1v1h-1zM35 745h1v1h-1zM35 742h1v1h-1zM85 809h1v1h-1zM85 806h1v1h-1zM85 802h1v1h-1zM85 799h1v1h-1zM85 796h1v1h-1zM85 792h1v1h-1zM85 789h1v1h-1zM85 786h1v1h-1zM85 782h1v1h-1zM85 779h1v1h-1zM85 776h1v1h-1zM85 772h1v1h-1zM85 769h1v1h-1zM85 765h1v1h-1zM85 762h1v1h-1zM85 759h1v1h-1zM85 755h1v1h-1zM85 752h1v1h-1zM85 749h1v1h-1zM85 745h1v1h-1zM85 742h1v1h-1zM135 809h1v1h-1zM135 806h1v1h-1zM135 802h1v1h-1zM135 799h1v1h-1zM135 796h1v1h-1zM135 792h1v1h-1zM135 789h1v1h-1zM135 786h1v1h-1zM135 782h1v1h-1zM135 779h1v1h-1zM135 776h1v1h-1zM135 772h1v1h-1zM135 769h1v1h-1zM135 765h1v1h-1zM135 762h1v1h-1zM135 759h1v1h-1zM135 755h1v1h-1zM135 752h1v1h-1zM135 749h1v1h-1zM135 745h1v1h-1zM135 742h1v1h-1zM185 809h1v1h-1zM185 806h1v1h-1zM185 802h1v1h-1zM185 799h1v1h-1zM185 796h1v1h-1zM185 792h1v1h-1zM185 789h1v1h-1zM185 786h1v1h-1zM185 782h1v1h-1zM185 779h1v1h-1zM185 776h1v1h-1zM185 772h1v1h-1zM185 769h1v1h-1zM185 765h1v1h-1zM185 762h1v1h-1zM185 759h1v1h-1zM185 755h1v1h-1zM185 752h1v1h-1zM185 749h1v1h-1zM185 745h1v1h-1zM185 742h1v1h-1zM225 809h1v1h-1zM225 806h1v1h-1zM225 802h1v1h-1zM225 799h1v1h-1zM225 796h1v1h-1zM225 792h1v1h-1zM225 789h1v1h-1zM225 786h1v1h-1zM225 782h1v1h-1zM225 779h1v1h-1zM225 776h1v1h-1zM225 772h1v1h-1zM225 769h1v1h-1zM225 765h1v1h-1zM225 762h1v1h-1zM225 759h1v1h-1zM225 755h1v1h-1zM225 752h1v1h-1zM225 749h1v1h-1zM225 745h1v1h-1zM225 742h1v1h-1zM275 809h1v1h-1zM275 806h1v1h-1zM275 802h1v1h-1zM275 799h1v1h-1zM275 796h1v1h-1zM275 792h1v1h-1zM275 789h1v1h-1zM275 786h1v1h-1zM275 782h1v1h-1zM275 779h1v1h-1zM275 776h1v1h-1zM275 772h1v1h-1zM275 769h1v1h-1zM275 765h1v1h-1zM275 762h1v1h-1zM275 759h1v1h-1zM275 755h1v1h-1zM275 752h1v1h-1zM275 749h1v1h-1zM275 745h1v1h-1zM275 742h1v1h-1zM325 809h1v1h-1zM325 806h1v1h-1zM325 802h1v1h-1zM325 799h1v1h-1zM325 796h1v1h-1zM325 792h1v1h-1zM325 789h1v1h-1zM325 786h1v1h-1zM325 782h1v1h-1zM325 779h1v1h-1zM325 776h1v1h-1zM325 772h1v1h-1zM325 769h1v1h-1zM325 765h1v1h-1zM325 762h1v1h-1zM325 759h1v1h-1zM325 755h1v1h-1zM325 752h1v1h-1zM325 749h1v1h-1zM325 745h1v1h-1zM325 742h1v1h-1zM375 809h1v1h-1zM375 806h1v1h-1zM375 802h1v1h-1zM375 799h1v1h-1zM375 796h1v1h-1zM375 792h1v1h-1zM375 789h1v1h-1zM375 786h1v1h-1zM375 782h1v1h-1zM375 779h1v1h-1zM375 776h1v1h-1zM375 772h1v1h-1zM375 769h1v1h-1zM375 765h1v1h-1zM375 762h1v1h-1zM375 759h1v1h-1zM375 755h1v1h-1zM375 752h1v1h-1zM375 749h1v1h-1zM375 745h1v1h-1zM375 742h1v1h-1zM425 809h1v1h-1zM425 806h1v1h-1zM425 802h1v1h-1zM425 799h1v1h-1zM425 796h1v1h-1zM425 792h1v1h-1zM425 789h1v1h-1zM425 786h1v1h-1zM425 782h1v1h-1zM425 779h1v1h-1zM425 776h1v1h-1zM425 772h1v1h-1zM425 769h1v1h-1zM425 765h1v1h-1zM425 762h1v1h-1zM425 759h1v1h-1zM425 755h1v1h-1zM425 752h1v1h-1zM425 749h1v1h-1zM425 745h1v1h-1zM425 742h1v1h-1zM475 809h1v1h-1zM475 806h1v1h-1zM475 802h1v1h-1zM475 799h1v1h-1zM475 796h1v1h-1zM475 792h1v1h-1zM475 789h1v1h-1zM475 786h1v1h-1zM475 782h1v1h-1zM475 779h1v1h-1zM475 776h1v1h-1zM475 772h1v1h-1zM475 769h1v1h-1zM475 765h1v1h-1zM475 762h1v1h-1zM475 759h1v1h-1zM475 755h1v1h-1zM475 752h1v1h-1zM475 749h1v1h-1zM475 745h1v1h-1zM475 742h1v1h-1zM525 809h1v1h-1zM525 806h1v1h-1zM525 802h1v1h-1zM525 799h1v1h-1zM525 796h1v1h-1zM525 792h1v1h-1zM525 789h1v1h-1zM525 786h1v1h-1zM525 782h1v1h-1zM525 779h1v1h-1zM525 776h1v1h-1zM525 772h1v1h-1zM525 769h1v1h-1zM525 765h1v1h-1zM525 762h1v1h-1zM525 759h1v1h-1zM525 755h1v1h-1zM525 752h1v1h-1zM525 749h1v1h-1zM525 745h1v1h-1zM525 742h1v1h-1zM575 809h1v1h-1zM575 806h1v1h-1zM575 802h1v1h-1zM575 799h1v1h-1zM575 796h1v1h-1zM575 792h1v1h-1zM575 789h1v1h-1zM575 786h1v1h-1zM575 782h1v1h-1zM575 779h1v1h-1zM575 776h1v1h-1zM575 772h1v1h-1zM575 769h1v1h-1zM575 765h1v1h-1zM575 762h1v1h-1zM575 759h1v1h-1zM575 755h1v1h-1zM575 752h1v1h-1zM575 749h1v1h-1zM575 745h1v1h-1zM575 742h1v1h-1zM625 809h1v1h-1zM625 806h1v1h-1zM625 802h1v1h-1zM625 799h1v1h-1zM625 796h1v1h-1zM625 792h1v1h-1zM625 789h1v1h-1zM625 786h1v1h-1zM625 782h1v1h-1zM625 779h1v1h-1zM625 776h1v1h-1zM625 772h1v1h-1zM625 769h1v1h-1zM625 765h1v1h-1zM625 762h1v1h-1zM625 759h1v1h-1zM625 755h1v1h-1zM625 752h1v1h-1zM625 749h1v1h-1zM625 745h1v1h-1zM625 742h1v1h-1zM675 809h1v1h-1zM675 806h1v1h-1zM675 802h1v1h-1zM675 799h1v1h-1zM675 796h1v1h-1zM675 792h1v1h-1zM675 789h1v1h-1zM675 786h1v1h-1zM675 782h1v1h-1zM675 779h1v1h-1zM675 776h1v1h-1zM675 772h1v1h-1zM675 769h1v1h-1zM675 765h1v1h-1zM675 762h1v1h-1zM675 759h1v1h-1zM675 755h1v1h-1zM675 752h1v1h-1zM675 749h1v1h-1zM675 745h1v1h-1zM675 742h1v1h-1zM725 809h1v1h-1zM725 806h1v1h-1zM725 802h1v1h-1zM725 799h1v1h-1zM725 796h1v1h-1zM725 792h1v1h-1zM725 789h1v1h-1zM725 786h1v1h-1zM725 782h1v1h-1zM725 779h1v1h-1zM725 776h1v1h-1zM725 772h1v1h-1zM725 769h1v1h-1zM725 765h1v1h-1zM725 762h1v1h-1zM725 759h1v1h-1zM725 755h1v1h-1zM725 752h1v1h-1zM725 749h1v1h-1zM725 745h1v1h-1zM725 742h1v1h-1zM775 809h1v1h-1zM775 806h1v1h-1zM775 802h1v1h-1zM775 799h1v1h-1zM775 796h1v1h-1zM775 792h1v1h-1zM775 789h1v1h-1zM775 786h1v1h-1zM775 782h1v1h-1zM775 779h1v1h-1zM775 776h1v1h-1zM775 772h1v1h-1zM775 769h1v1h-1zM775 765h1v1h-1zM775 762h1v1h-1zM775 759h1v1h-1zM775 755h1v1h-1zM775 752h1v1h-1zM775 749h1v1h-1zM775 745h1v1h-1zM775 742h1v1h-1zM825 809h1v1h-1zM825 806h1v1h-1zM825 802h1v1h-1zM825 799h1v1h-1zM825 796h1v1h-1zM825 792h1v1h-1zM825 789h1v1h-1zM825 786h1v1h-1zM825 782h1v1h-1zM825 779h1v1h-1zM825 776h1v1h-1zM825 772h1v1h-1zM825 769h1v1h-1zM825 765h1v1h-1zM825 762h1v1h-1zM825 759h1v1h-1zM825 755h1v1h-1zM825 752h1v1h-1zM825 749h1v1h-1zM825 745h1v1h-1zM825 742h1v1h-1zM875 809h1v1h-1zM875 806h1v1h-1zM875 802h1v1h-1zM875 799h1v1h-1zM875 796h1v1h-1zM875 792h1v1h-1zM875 789h1v1h-1zM875 786h1v1h-1zM875 782h1v1h-1zM875 779h1v1h-1zM875 776h1v1h-1zM875 772h1v1h-1zM875 769h1v1h-1zM875 765h1v1h-1zM875 762h1v1h-1zM875 759h1v1h-1zM875 755h1v1h-1zM875 752h1v1h-1zM875 749h1v1h-1zM875 745h1v1h-1zM875 742h1v1h-1zM925 809h1v1h-1zM925 806h1v1h-1zM925 802h1v1h-1zM925 799h1v1h-1zM925 796h1v1h-1zM925 792h1v1h-1zM925 789h1v1h-1zM925 786h1v1h-1zM925 782h1v1h-1zM925 779h1v1h-1zM925 776h1v1h-1zM925 772h1v1h-1zM925 769h1v1h-1zM925 765h1v1h-1zM925 762h1v1h-1zM925 759h1v1h-1zM925 755h1v1h-1zM925 752h1v1h-1zM925 749h1v1h-1zM925 745h1v1h-1zM925 742h1v1h-1zM975 809h1v1h-1zM975 806h1v1h-1zM975 802h1v1h-1zM975 799h1v1h-1zM975 796h1v1h-1zM975 792h1v1h-1zM975 789h1v1h-1zM975 786h1v1h-1zM975 782h1v1h-1zM975 779h1v1h-1zM975 776h1v1h-1zM975 772h1v1h-1zM975 769h1v1h-1zM975 765h1v1h-1zM975 762h1v1h-1zM975 759h1v1h-1zM975 755h1v1h-1zM975 752h1v1h-1zM975 749h1v1h-1zM975 745h1v1h-1zM975 742h1v1h-1zM1025 809h1v1h-1zM1025 806h1v1h-1zM1025 802h1v1h-1zM1025 799h1v1h-1zM1025 796h1v1h-1zM1025 792h1v1h-1zM1025 789h1v1h-1zM1025 786h1v1h-1zM1025 782h1v1h-1zM1025 779h1v1h-1zM1025 776h1v1h-1zM1025 772h1v1h-1zM1025 769h1v1h-1zM1025 765h1v1h-1zM1025 762h1v1h-1zM1025 759h1v1h-1zM1025 755h1v1h-1zM1025 752h1v1h-1zM1025 749h1v1h-1zM1025 745h1v1h-1zM1025 742h1v1h-1zM1075 809h1v1h-1zM1075 806h1v1h-1zM1075 802h1v1h-1zM1075 799h1v1h-1zM1075 796h1v1h-1zM1075 792h1v1h-1zM1075 789h1v1h-1zM1075 786h1v1h-1zM1075 782h1v1h-1zM1075 779h1v1h-1zM1075 776h1v1h-1zM1075 772h1v1h-1zM1075 769h1v1h-1zM1075 765h1v1h-1zM1075 762h1v1h-1zM1075 759h1v1h-1zM1075 755h1v1h-1zM1075 752h1v1h-1zM1075 749h1v1h-1zM1075 745h1v1h-1zM1075 742h1v1h-1zM1125 809h1v1h-1zM1125 806h1v1h-1zM1125 802h1v1h-1zM1125 799h1v1h-1zM1125 796h1v1h-1zM1125 792h1v1h-1zM1125 789h1v1h-1zM1125 786h1v1h-1zM1125 782h1v1h-1zM1125 779h1v1h-1zM1125 776h1v1h-1zM1125 772h1v1h-1zM1125 769h1v1h-1zM1125 765h1v1h-1zM1125 762h1v1h-1zM1125 759h1v1h-1zM1125 755h1v1h-1zM1125 752h1v1h-1zM1125 749h1v1h-1zM1125 745h1v1h-1zM1125 742h1v1h-1zM1175 809h1v1h-1zM1175 806h1v1h-1zM1175 802h1v1h-1zM1175 799h1v1h-1zM1175 796h1v1h-1zM1175 792h1v1h-1zM1175 789h1v1h-1zM1175 786h1v1h-1zM1175 782h1v1h-1zM1175 779h1v1h-1zM1175 776h1v1h-1zM1175 772h1v1h-1zM1175 769h1v1h-1zM1175 765h1v1h-1zM1175 762h1v1h-1zM1175 759h1v1h-1zM1175 755h1v1h-1zM1175 752h1v1h-1zM1175 749h1v1h-1zM1175 745h1v1h-1zM1175 742h1v1h-1z" fill="#000"/>
<path d="M1 809h2v1h-2zM1213 809h2v1h-2zM1 806h2v1h-2zM1213 806h2v1h-2zM1 802h2v1h-2zM1213 802h2v1h-2zM1 799h2v1h-2zM1213 799h2v1h-2zM1 796h2v1h-2zM1213 796h2v1h-2zM1 792h2v1h-2zM1213 792h2v1h-2zM1 789h2v1h-2zM1213 789h2v1h-2zM1 786h2v1h-2zM1213 786h2v1h-2zM1 782h2v1h-2zM1213 782h2v1h-2zM1 779h2v1h-2zM1213 779h2v1h-2zM1 776h2v1h-2zM1213 776h2v1h-2zM1 772h2v1h-2zM1213 772h2v1h-2zM1 769h2v1h-2zM1213 769h2v1h-2zM1 765h2v1h-2zM1213 765h2v1h-2zM1 762h2v1h-2zM1213 762h2v1h-2zM1 759h2v1h-2zM1213 759h2v1h-2zM1 755h2v1h-2zM1213 755h2v1h-2zM1 752h2v1h-2zM1213 752h2v1h-2zM1 749h2v1h-2zM1213 749h2v1h-2zM1 745h2v1h-2zM1213 745h2v1h-2zM1 742h2v1h-2zM1213 742h2v1h-2zM1 742h5v1h-5zM1210 742h5v1h-5zM1 776h5v1h-5zM1210 776h5v1h-5zM1 809h5v1h-5zM1210 809h5v1h-5z" fill="#000"/>
<rect x="3" y="3" width="27" height="11" fill="#a0a0a0"/>
<rect x="2" y="2" width="27" height="11" fill="#404040"/>
<rect x="1" y="1" width="27" height="11" fill="#fff"/>
<text x="2" y="10.5" class="t">Data</text>
<g clip-path="url(#cmain)">
<rect x="1" y="461" width="1214" height="1" fill="#ff0000"/>
<g stroke="url(#dith)" stroke-width="2.6" fill="none">
<polyline points="200.0,-18.5 1185.5,389.9"/>
<polyline points="350.0,-14.5 1185.5,331.7"/>
<polyline points="0.0,128.0 900.0,501.0"/>
</g>
<polyline points="0.0,145.8 190.0,123.9 350.0,103.7 490.0,85.5 536.8,79.2 574.2,77.2 646.0,76.7 650.0,76.1 850.0,76.0 863.9,76.0 865.6,76.8 893.4,76.8 896.8,77.7 915.9,79.4 935.0,81.2 945.4,82.6 964.5,84.3 974.9,86.5 994.0,89.5 1014.8,92.4 1035.6,94.7 1070.0,97.8 1100.0,100.5 1130.0,103.0 1150.0,105.0 1165.0,106.0 1185.5,107.2" stroke="#7f00ff" stroke-width="2.2" fill="none"/>
<polyline points="0.0,7.5 85.0,6.9 150.0,4.0 160.0,3.0 175.0,1.5 215.0,1.0 475.0,1.0 500.0,4.5" stroke="#00ff00" stroke-width="2.2" fill="none"/>
<polyline points="490.0,3.9 513.4,5.5 544.6,8.6 568.0,12.5 589.8,20.3 614.8,28.8 650.0,40.5 653.9,41.3 674.7,50.0 692.0,56.0 716.3,66.4 726.7,69.0 744.1,76.0 770.1,88.1 796.1,96.8 813.5,102.0 830.8,111.5 850.0,117.3 876.0,129.4 902.0,138.9 924.6,148.5 945.4,155.4 974.9,164.1 988.8,169.3 1013.1,178.0 1032.2,183.2 1065.0,189.4 1075.9,193.3 1094.6,198.0 1116.4,202.7 1149.2,208.1 1167.9,212.0 1185.5,214.4" stroke="#00ff00" stroke-width="2.2" fill="none"/>
<polyline points="8.6,0.0 11.5,9.6 15.3,22.0 19.2,32.6 25.2,52.4 35.8,43.2 47.0,48.7 59.5,50.8 66.0,52.5 75.0,56.6 84.4,47.9 90.0,41.0 95.0,33.4 110.0,33.4 120.0,34.1 125.0,33.4 135.0,35.3 145.0,30.5 155.0,23.8 160.0,17.3 165.0,1.4 166.0,0.0" stroke="#000060" stroke-width="1.1" fill="none"/>
<polyline points="202.5,0.0 205.6,6.2 215.0,0.0" stroke="#000060" stroke-width="1.1" fill="none"/>
<polyline points="229.0,0.0 244.6,21.8 260.2,37.4 271.1,53.0 277.3,58.5 285.1,60.8 299.2,54.6 314.8,44.4 324.1,35.1 335.0,30.4 340.0,33.5 346.2,38.2 355.6,31.2 371.2,28.8 386.8,30.4 394.6,33.2 414.9,33.2 424.2,43.7 435.1,57.7 442.9,58.5 453.8,53.8 464.8,53.0 486.6,53.0 496.0,57.4 500.0,57.4 505.6,55.8 513.4,54.6 535.2,63.9 543.0,53.0 555.5,35.1 571.1,7.8 575.8,5.5 583.6,8.6 589.8,18.7 596.0,32.7 599.2,46.8 603.3,78.0 606.4,92.5 612.7,131.5 617.3,153.3 623.6,176.7 628.9,195.6 635.1,221.3 646.0,207.3 655.4,205.0 664.8,223.7 675.7,231.2 696.0,233.0 700.0,233.3 705.6,234.6 715.0,243.9 721.2,231.5 736.8,208.8 746.1,202.6 760.2,201.8 774.2,197.9 785.1,192.5 796.0,198.7 805.4,204.2 814.8,215.1 825.7,229.6 836.6,227.6 850.0,228.7 863.8,240.0 869.3,254.0 874.7,275.9 880.2,282.1 886.4,286.8 895.0,286.8 902.0,268.1 905.1,255.6 916.0,249.4 925.4,251.7 934.8,263.4 945.7,276.6 951.9,291.5 959.7,311.7 965.2,327.3 970.0,327.3 975.6,326.5 983.8,317.3 995.0,307.1 1004.1,316.3 1016.4,324.5 1026.6,334.7 1034.7,342.8 1040.8,324.5 1044.9,315.3 1050.0,311.2 1046.2,314.9 1055.6,307.1 1071.2,298.5 1086.8,293.8 1094.6,289.9 1098.5,292.2 1105.5,302.1 1113.3,293.0 1118.0,288.3 1122.7,278.2 1128.9,268.9 1135.9,260.3 1141.4,240.0 1149.2,207.3 1152.3,190.2 1158.5,163.7 1164.8,141.8 1166.3,140.3 1175.7,140.3 1185.5,146.6" stroke="#000060" stroke-width="1.1" fill="none"/>
<polyline points="0.0,125.0 5.0,125.0 15.0,112.7 25.0,108.0 35.0,142.0 45.0,144.0 55.0,145.0 65.0,149.0 75.0,147.2 85.0,150.2 95.0,153.4 105.0,129.7 115.0,118.4 125.0,118.4 135.0,114.2 145.0,115.6 155.0,118.4 165.0,127.5 175.0,127.9 185.0,124.6 195.0,101.4 205.6,68.6 215.0,81.1 224.3,98.2 235.2,102.1 244.6,100.6 255.5,111.5 264.9,111.5 274.2,115.4 296.0,115.4 314.8,121.3 325.7,110.7 336.6,106.0 346.0,88.9 355.6,81.1 365.0,75.6 375.9,81.1 385.2,85.0 394.6,85.7 405.5,91.2 413.3,90.4 422.7,94.4 427.3,95.9 435.1,94.4 452.3,97.5 475.7,97.5 486.6,96.7 496.0,89.7 500.0,89.2 505.6,88.1 515.0,90.1 524.3,88.1 535.2,88.6 542.5,111.2 551.8,147.1 557.3,167.3 562.7,192.3 565.0,206.5 571.2,251.7 574.3,272.0 576.4,280.0 584.2,325.2 592.7,372.0 595.6,387.6 605.2,391.5 616.1,379.0 625.5,362.6 635.6,345.5 645.0,349.4 655.1,347.0 659.8,331.5 666.0,305.0 675.4,292.5 689.4,293.3 705.6,292.3 715.0,287.3 725.9,295.4 735.2,293.5 746.1,283.7 755.5,270.5 764.9,275.1 774.2,279.0 785.1,294.6 807.0,294.6 817.9,300.1 825.7,307.1 835.0,321.1 849.0,328.1 864.6,331.2 875.5,318.0 886.4,313.3 895.0,314.5 902.0,342.0 908.3,378.5 916.5,401.9 925.7,427.4 945.0,431.5 965.4,409.0 975.6,408.0 985.8,432.5 995.0,450.8 1004.1,452.5 1014.3,454.9 1024.5,449.8 1035.7,446.8 1045.9,461.0 1045.9,461.0 1055.6,446.0 1065.0,416.4 1075.9,402.4 1085.2,385.2 1096.1,371.2 1103.9,344.7 1105.5,342.8 1116.4,347.0 1125.8,345.5 1136.7,344.4 1146.0,349.4 1155.4,363.4 1164.8,355.6 1170.2,340.0 1174.1,327.3 1185.5,303.0" stroke="#000060" stroke-width="1.1" fill="none"/>
<polyline points="0.0,38.4 9.6,46.0 19.2,54.7 26.0,58.0 36.9,70.3 46.2,83.5 55.4,91.5 63.3,94.1 71.2,96.1 79.2,94.1 87.1,90.8 100.0,88.5 120.0,87.1 130.0,86.4 140.0,83.5 150.0,78.5 160.0,68.4 170.0,61.2 180.0,57.6 200.0,53.6 205.6,53.8 221.2,53.0 233.7,49.9 244.6,49.9 255.5,57.7 264.9,64.7 277.3,73.3 289.8,81.1 299.2,81.9 314.8,78.7 330.3,74.8 339.7,73.3 346.2,72.5 355.6,67.1 363.4,63.9 371.2,61.6 380.5,58.5 394.6,57.7 405.5,59.3 418.0,63.9 430.5,67.8 441.4,68.6 449.2,70.2 464.8,72.5 475.7,73.0 488.1,74.1 500.0,75.6 505.6,76.4 521.2,74.9 530.5,73.3 536.8,74.1 544.6,78.0 552.4,87.3 560.2,95.1 566.4,102.9 571.1,112.3 577.3,124.8 584.6,140.8 592.4,159.5 601.7,179.8 608.6,198.7 618.0,214.3 627.3,229.9 635.1,247.1 642.9,254.9 652.3,264.2 661.6,273.6 669.4,277.5 677.2,277.5 686.6,274.3 694.4,267.3 700.0,262.7 710.3,261.1 724.3,258.0 736.8,254.1 749.3,251.0 757.1,247.1 772.7,246.3 791.4,247.1 802.3,244.7 811.6,245.2 821.0,251.0 833.5,261.1 850.0,273.6 853.7,276.6 864.6,281.3 875.5,285.2 884.9,286.0 892.7,289.1 900.4,297.7 909.8,310.2 919.2,319.5 925.4,327.3 934.8,332.0 950.3,339.8 970.0,350.7 975.6,354.0 985.8,367.3 996.0,382.6 1012.3,382.6 1032.7,381.5 1042.9,379.5 1050.0,377.5 1075.9,370.0 1086.8,358.5 1102.4,342.9 1118.0,327.3 1133.6,311.7 1146.0,299.3 1155.4,282.1 1164.8,268.1 1172.6,258.7 1180.4,252.5 1185.5,249.6" stroke="#8080ff" stroke-width="2" fill="none"/>
<polyline points="41.5,0.0 50.0,8.6 59.5,20.1 69.0,29.7 78.7,38.4 90.0,47.5 105.0,57.6 125.0,70.6 140.0,77.0 150.0,78.9 165.0,78.9 180.0,74.9 190.0,73.3 204.0,70.5 213.0,71.7 224.0,71.4 234.0,70.2 241.5,67.8 252.0,66.7 265.0,66.3 284.0,66.7 299.0,67.0 324.0,66.7 330.0,64.7 337.0,63.1 345.0,62.6 355.6,61.3 363.4,61.3 374.3,64.7 391.5,67.8 405.5,70.2 418.0,71.0 449.2,71.0 460.1,69.4 475.7,67.4 500.0,67.1 505.6,67.1 521.2,68.6 536.8,70.5 547.7,73.6 557.1,78.8 564.9,84.2 571.1,92.0 577.3,99.0 586.1,108.1 601.7,128.3 612.7,138.5 629.8,151.7 648.5,166.5 661.6,180.0 675.7,190.9 688.1,204.9 700.0,215.1 705.6,219.0 721.2,233.0 730.5,238.5 746.1,250.2 761.7,256.4 772.7,261.4 789.8,261.4 799.2,258.0 807.0,254.9 824.1,254.9 850.0,261.1 856.8,262.6 880.2,266.5 894.2,267.8 903.6,272.7 919.2,282.1 934.8,291.5 950.3,302.4 965.9,312.5 970.0,314.5 975.6,317.3 991.9,328.5 1004.1,336.7 1016.4,346.9 1032.7,354.6 1042.9,355.0 1050.0,354.0 1055.6,358.5 1071.2,360.1 1086.8,360.9 1107.1,360.9 1118.0,357.7 1133.6,349.2 1149.2,339.0 1164.8,325.0 1175.7,317.2 1185.5,310.8" stroke="#a00000" stroke-width="2.3" fill="none"/>
<path d="M5 63h1v25h-1zM2 64h7v13h-7zM15 43h1v35h-1zM12 61h7v13h-7zM25 58h1v50h-1zM22 69h7v33h-7zM35 111h1v33h-1zM32 114h7v28h-7zM45 107h1v30h-1zM42 110h7v27h-7zM55 100h1v28h-1zM52 102h7v22h-7zM65 86h1v32h-1zM62 93h7v21h-7zM75 66h1v42h-1zM72 70h7v33h-7zM85 54h1v18h-1zM82 57h7v14h-7zM95 33h1v24h-1zM92 49h7v8h-7zM105 40h1v21h-1zM102 48h7v13h-7zM115 68h1v23h-1zM112 72h7v6h-7zM125 63h1v49h-1zM122 73h7v31h-7zM135 98h1v20h-1zM132 103h7v5h-7zM145 51h1v61h-1zM142 52h7v58h-7zM155 27h1v41h-1zM152 37h7v21h-7zM165 4h1v39h-1zM162 8h7v27h-7zM175 10h1v26h-1zM172 13h7v12h-7zM185 11h1v24h-1zM182 15h7v16h-7zM195 16h1v31h-1zM192 29h7v16h-7zM205 47h1v22h-1zM202 54h7v6h-7zM215 57h1v36h-1zM212 60h7v18h-7zM225 77h1v18h-1zM222 86h7v3h-7zM235 68h1v15h-1zM232 76h7v2h-7zM245 64h1v27h-1zM242 66h7v7h-7zM255 71h1v37h-1zM252 77h7v31h-7zM265 73h1v18h-1zM262 82h7v5h-7zM275 82h1v27h-1zM272 91h7v15h-7zM285 87h1v21h-1zM282 87h7v12h-7zM295 68h1v18h-1zM292 72h7v12h-7zM305 53h1v19h-1zM302 57h7v12h-7zM315 42h1v27h-1zM312 50h7v10h-7zM325 44h1v13h-1zM322 45h7v5h-7zM335 50h1v17h-1zM332 54h7v6h-7zM345 54h1v20h-1zM342 56h7v17h-7zM355 32h1v30h-1zM352 33h7v29h-7zM365 27h1v31h-1zM362 37h7v12h-7zM375 53h1v19h-1zM372 55h7v15h-7zM385 69h1v25h-1zM382 72h7v7h-7zM395 58h1v25h-1zM392 63h7v7h-7zM405 63h1v20h-1zM402 70h7v6h-7zM415 69h1v20h-1zM412 72h7v9h-7zM425 67h1v28h-1zM422 73h7v22h-7zM435 82h1v9h-1zM432 82h7v7h-7zM445 69h1v12h-1zM442 74h7v7h-7zM455 58h1v34h-1zM452 58h7v19h-7zM465 51h1v18h-1zM462 54h7v12h-7zM475 71h1v16h-1zM472 74h7v3h-7zM485 64h1v15h-1zM482 73h7v2h-7zM495 63h1v19h-1zM492 72h7v11h-7zM505 67h1v21h-1zM502 68h7v17h-7zM515 72h1v20h-1zM512 78h7v8h-7zM525 52h1v20h-1zM522 67h7v2h-7zM535 71h1v13h-1zM532 72h7v7h-7zM545 89h1v40h-1zM542 89h7v36h-7zM555 113h1v51h-1zM552 116h7v48h-7zM565 176h1v51h-1zM562 195h7v12h-7zM575 210h1v61h-1zM572 236h7v35h-7zM585 270h1v100h-1zM582 290h7v25h-7zM595 264h1v87h-1zM592 266h7v81h-7zM605 297h1v78h-1zM602 301h7v22h-7zM615 266h1v52h-1zM612 272h7v21h-7zM625 238h1v26h-1zM622 242h7v18h-7zM635 255h1v22h-1zM632 255h7v8h-7zM645 230h1v43h-1zM642 235h7v25h-7zM655 245h1v49h-1zM652 251h7v21h-7zM665 266h1v56h-1zM662 273h7v21h-7zM675 269h1v29h-1zM672 278h7v12h-7zM685 261h1v25h-1zM682 267h7v9h-7zM695 242h1v33h-1zM692 247h7v19h-7zM705 235h1v34h-1zM702 246h7v19h-7zM715 250h1v26h-1zM712 252h7v7h-7zM725 220h1v22h-1zM722 221h7v19h-7zM735 212h1v20h-1zM732 218h7v7h-7zM745 210h1v20h-1zM742 218h7v2h-7zM755 214h1v29h-1zM752 220h7v4h-7zM765 230h1v35h-1zM762 237h7v27h-7zM775 265h1v22h-1zM772 272h7v3h-7zM785 260h1v24h-1zM782 282h7v2h-7zM795 242h1v23h-1zM792 244h7v20h-7zM805 234h1v19h-1zM802 238h7v5h-7zM815 243h1v37h-1zM812 244h7v34h-7zM825 290h1v27h-1zM822 293h7v5h-7zM835 282h1v37h-1zM832 288h7v19h-7zM845 283h1v35h-1zM842 295h7v19h-7zM855 269h1v26h-1zM852 281h7v14h-7zM865 283h1v28h-1zM862 283h7v22h-7zM875 296h1v20h-1zM872 310h7v1h-7zM885 290h1v22h-1zM882 291h7v21h-7zM895 286h1v19h-1zM892 295h7v10h-7zM905 321h1v58h-1zM902 322h7v57h-7zM915 373h1v49h-1zM912 386h7v2h-7zM925 394h1v21h-1zM922 402h7v2h-7zM935 338h1v19h-1zM932 344h7v7h-7zM945 355h1v15h-1zM942 360h7v4h-7zM955 330h1v48h-1zM952 340h7v33h-7zM965 339h1v44h-1zM962 344h7v14h-7zM975 363h1v30h-1zM972 372h7v8h-7zM985 362h1v80h-1zM982 383h7v46h-7zM995 405h1v56h-1zM992 406h7v35h-7zM1005 385h1v42h-1zM1002 393h7v34h-7zM1015 375h1v23h-1zM1012 380h7v9h-7zM1025 363h1v37h-1zM1022 368h7v15h-7zM1035 362h1v27h-1zM1032 364h7v12h-7zM1045 321h1v59h-1zM1042 324h7v56h-7zM1055 303h1v49h-1zM1052 328h7v17h-7zM1065 308h1v35h-1zM1062 314h7v22h-7zM1075 279h1v59h-1zM1072 305h7v25h-7zM1085 308h1v40h-1zM1082 320h7v23h-7zM1095 302h1v29h-1zM1092 311h7v2h-7zM1105 304h1v29h-1zM1102 315h7v12h-7zM1115 293h1v31h-1zM1112 294h7v18h-7zM1125 266h1v28h-1zM1122 269h7v19h-7zM1135 263h1v30h-1zM1132 271h7v9h-7zM1145 210h1v76h-1zM1142 225h7v61h-7zM1155 160h1v41h-1zM1152 170h7v31h-7zM1165 140h1v50h-1zM1162 162h7v14h-7zM1175 181h1v32h-1zM1172 187h7v26h-7zM1185 217h1v50h-1zM1182 226h7v14h-7z" fill="#000"/>
<path d="M3 65h5v11h-5zM43 111h5v25h-5zM53 103h5v20h-5zM73 71h5v31h-5zM83 58h5v12h-5zM113 73h5v4h-5zM143 53h5v56h-5zM153 38h5v19h-5zM163 9h5v25h-5zM203 55h5v4h-5zM243 67h5v5h-5zM283 88h5v10h-5zM293 73h5v10h-5zM303 58h5v10h-5zM313 51h5v8h-5zM353 34h5v27h-5zM383 73h5v5h-5zM393 64h5v5h-5zM413 73h5v7h-5zM433 83h5v5h-5zM453 59h5v17h-5zM473 75h5v1h-5zM503 69h5v15h-5zM563 196h5v10h-5zM583 291h5v23h-5zM603 302h5v20h-5zM613 273h5v19h-5zM623 243h5v16h-5zM643 236h5v23h-5zM663 274h5v19h-5zM673 279h5v10h-5zM693 248h5v17h-5zM713 253h5v5h-5zM723 222h5v17h-5zM773 273h5v1h-5zM793 245h5v18h-5zM803 239h5v3h-5zM843 296h5v17h-5zM883 292h5v19h-5zM953 341h5v31h-5zM973 373h5v6h-5zM1003 394h5v32h-5zM1023 369h5v13h-5zM1043 325h5v54h-5zM1063 315h5v20h-5zM1083 321h5v21h-5zM1103 316h5v10h-5zM1113 295h5v16h-5zM1123 270h5v17h-5zM1143 226h5v59h-5zM1153 171h5v29h-5z" fill="#fff"/>
<path d="M13 62h5v11h-5zM23 70h5v31h-5zM33 115h5v26h-5zM63 94h5v19h-5zM93 50h5v6h-5zM103 49h5v11h-5zM123 74h5v29h-5zM133 104h5v3h-5zM173 14h5v10h-5zM183 16h5v14h-5zM193 30h5v14h-5zM213 61h5v16h-5zM223 87h5v1h-5zM253 78h5v29h-5zM263 83h5v3h-5zM273 92h5v13h-5zM323 46h5v3h-5zM333 55h5v4h-5zM343 57h5v15h-5zM363 38h5v10h-5zM373 56h5v13h-5zM403 71h5v4h-5zM423 74h5v20h-5zM443 75h5v5h-5zM463 55h5v10h-5zM493 73h5v9h-5zM513 79h5v6h-5zM533 73h5v5h-5zM543 90h5v34h-5zM553 117h5v46h-5zM573 237h5v33h-5zM593 267h5v79h-5zM633 256h5v6h-5zM653 252h5v19h-5zM683 268h5v7h-5zM703 247h5v17h-5zM733 219h5v5h-5zM753 221h5v2h-5zM763 238h5v25h-5zM813 245h5v32h-5zM823 294h5v3h-5zM833 289h5v17h-5zM853 282h5v12h-5zM863 284h5v20h-5zM893 296h5v8h-5zM903 323h5v55h-5zM933 345h5v5h-5zM943 361h5v2h-5zM963 345h5v12h-5zM983 384h5v44h-5zM993 407h5v33h-5zM1013 381h5v7h-5zM1033 365h5v10h-5zM1053 329h5v15h-5zM1073 306h5v23h-5zM1133 272h5v7h-5zM1163 163h5v12h-5zM1173 188h5v24h-5zM1183 227h5v12h-5z" fill="#606060"/>
</g>
<rect x="3" y="503" width="55" height="10" fill="#a0a0a0"/>
<rect x="2" y="502" width="55" height="10" fill="#404040"/>
<rect x="1" y="501" width="55" height="10" fill="#fff"/>
<text x="2" y="509.5" class="t">Stochastic</text>
<g clip-path="url(#cst)">
<line x1="1" y1="525.5" x2="1215" y2="525.5" stroke="#e00000" stroke-width="1" stroke-dasharray="3,3"/>
<line x1="1" y1="554.5" x2="1215" y2="554.5" stroke="#0000ff" stroke-width="1" stroke-dasharray="3,3"/>
<polyline points="0.0,562.8 5.0,562.7 15.0,562.5 25.0,562.4 35.0,562.2 45.0,562.0 55.0,560.7 65.0,559.1 75.0,557.4 85.0,555.7 95.0,553.5 105.0,551.3 115.0,549.4 125.0,549.4 135.0,549.4 145.0,547.3 155.0,544.1 165.0,537.1 175.0,530.0 185.0,524.1 195.0,525.6 205.0,527.1 215.0,529.5 225.0,532.7 235.0,536.8 245.0,540.1 255.0,542.0 265.0,544.1 275.0,549.1 285.0,552.3 295.0,553.5 305.0,549.6 315.0,544.5 325.0,538.9 335.0,536.0 345.0,536.3 355.0,537.1 365.0,537.4 375.0,536.1 385.0,537.4 395.0,539.7 405.0,542.2 415.0,542.3 425.0,543.6 435.0,545.5 445.0,548.5 455.0,547.0 465.0,543.8 475.0,539.5 485.0,539.0 495.0,541.6 505.0,545.0 515.0,548.9 525.0,549.7 535.0,551.2 545.0,551.9 555.0,556.1 565.0,559.1 575.0,561.5 585.0,559.9 595.0,559.3 605.0,557.1 615.0,556.1 625.0,552.6 635.0,549.5 645.0,546.2 655.0,545.3 665.0,545.4 675.0,546.8 685.0,547.8 695.0,548.2 705.0,547.6 715.0,546.4 725.0,545.3 735.0,543.5 745.0,541.2 755.0,538.8 765.0,536.8 775.0,535.4 785.0,534.7 795.0,533.0 805.0,530.5 815.0,528.3 825.0,530.5 835.0,539.0 845.0,547.9 855.0,553.6 865.0,554.2 875.0,554.9 885.0,555.6 895.0,556.7 905.0,557.5 915.0,558.6 925.0,559.8 935.0,558.3 945.0,555.9 955.0,551.6 965.0,549.1 975.0,547.3 985.0,549.4 995.0,553.0 1005.0,556.1 1015.0,555.7 1025.0,551.7 1035.0,547.0 1045.0,541.6 1055.0,537.6 1065.0,532.4 1075.0,529.5 1085.0,526.3 1095.0,525.2 1105.0,523.8 1115.0,522.6 1125.0,520.2 1135.0,517.7 1145.0,515.9 1155.0,515.2 1165.0,515.3 1175.0,516.6 1185.0,519.4" stroke="#ff0000" stroke-width="1" fill="none"/>
<polyline points="0.0,562.0 5.0,562.0 15.0,562.0 25.0,562.0 35.0,562.0 45.0,560.7 55.0,559.3 65.0,557.6 75.0,554.8 85.0,552.1 95.0,549.4 105.0,548.5 115.0,547.9 125.0,549.0 135.0,550.1 145.0,547.6 155.0,539.4 165.0,529.8 175.0,525.2 185.0,523.1 195.0,526.7 205.0,528.8 215.0,533.1 225.0,538.4 235.0,541.4 245.0,540.5 255.0,544.2 265.0,547.7 275.0,555.5 285.0,553.6 295.0,551.3 305.0,543.9 315.0,538.2 325.0,534.7 335.0,535.1 345.0,539.0 355.0,537.2 365.0,536.0 375.0,535.1 385.0,541.2 395.0,542.8 405.0,542.6 415.0,541.3 425.0,546.9 435.0,548.4 445.0,550.2 455.0,542.4 465.0,538.7 475.0,537.3 485.0,540.9 495.0,546.7 505.0,547.4 515.0,552.6 525.0,549.1 535.0,551.8 545.0,554.8 555.0,561.6 565.0,560.7 575.0,562.0 585.0,557.1 595.0,558.7 605.0,555.4 615.0,554.1 625.0,548.2 635.0,546.1 645.0,544.1 655.0,545.7 665.0,546.2 675.0,548.5 685.0,548.7 695.0,547.3 705.0,546.6 715.0,545.4 725.0,543.9 735.0,541.3 745.0,538.4 755.0,536.7 765.0,535.5 775.0,534.2 785.0,534.5 795.0,530.3 805.0,526.7 815.0,527.8 825.0,537.2 835.0,551.9 845.0,554.7 855.0,554.2 865.0,553.8 875.0,556.6 885.0,556.5 895.0,556.9 905.0,559.3 915.0,559.8 925.0,560.3 935.0,554.7 945.0,552.7 955.0,547.3 965.0,547.3 975.0,547.4 985.0,553.6 995.0,557.9 1005.0,556.9 1015.0,552.4 1025.0,545.7 1035.0,543.0 1045.0,536.1 1055.0,533.9 1065.0,527.3 1075.0,527.2 1085.0,524.2 1095.0,524.3 1105.0,522.9 1115.0,520.4 1125.0,517.3 1135.0,515.4 1145.0,515.0 1155.0,515.1 1165.0,515.8 1175.0,518.8 1185.0,523.6" stroke="#ff0000" stroke-width="1" fill="none"/>
<polyline points="0.0,562.0 5.0,561.9 15.0,561.7 25.0,561.4 35.0,561.2 45.0,559.4 55.0,557.4 65.0,555.0 75.0,551.1 85.0,547.2 95.0,541.7 105.0,536.5 115.0,532.0 125.0,533.9 135.0,539.9 145.0,541.3 155.0,536.5 165.0,528.5 175.0,521.3 185.0,517.9 195.0,520.3 205.0,524.6 215.0,530.7 225.0,537.2 235.0,543.3 245.0,546.2 255.0,547.8 265.0,548.7 275.0,552.5 285.0,554.6 295.0,555.8 305.0,552.1 315.0,546.7 325.0,539.9 335.0,534.7 345.0,532.1 355.0,528.9 365.0,526.9 375.0,525.2 385.0,528.9 395.0,533.6 405.0,538.2 415.0,539.7 425.0,543.2 435.0,547.7 445.0,553.6 455.0,553.5 465.0,550.5 475.0,545.3 485.0,544.6 495.0,547.0 505.0,548.7 515.0,549.3 525.0,545.6 535.0,544.5 545.0,545.0 555.0,551.8 565.0,556.9 575.0,560.7 585.0,559.5 595.0,559.1 605.0,557.0 615.0,556.1 625.0,552.6 635.0,549.5 645.0,546.1 655.0,545.3 665.0,545.2 675.0,546.3 685.0,546.6 695.0,545.4 705.0,541.7 715.0,535.4 725.0,528.4 735.0,521.7 745.0,517.5 755.0,516.2 765.0,518.8 775.0,524.6 785.0,533.0 795.0,537.8 805.0,538.7 815.0,537.1 825.0,540.1 835.0,547.6 845.0,553.9 855.0,556.4 865.0,555.5 875.0,555.9 885.0,556.4 895.0,556.8 905.0,557.2 915.0,557.9 925.0,559.0 935.0,557.3 945.0,554.7 955.0,549.3 965.0,545.7 975.0,542.8 985.0,545.3 995.0,549.8 1005.0,554.0 1015.0,553.3 1025.0,548.4 1035.0,542.8 1045.0,535.9 1055.0,530.1 1065.0,523.6 1075.0,521.9 1085.0,521.4 1095.0,523.3 1105.0,523.3 1115.0,522.6 1125.0,520.2 1135.0,517.8 1145.0,516.1 1155.0,515.7 1165.0,516.1 1175.0,517.8 1185.0,521.8" stroke="#ff9a00" stroke-width="1" fill="none"/>
<polyline points="0.0,561.2 5.0,560.5 15.0,559.0 25.0,559.6 35.0,560.4 45.0,558.6 55.0,554.6 65.0,550.0 75.0,547.5 85.0,545.2 95.0,536.3 105.0,530.8 115.0,526.8 125.0,528.7 135.0,542.1 145.0,539.1 155.0,528.0 165.0,517.5 175.0,517.0 185.0,519.2 195.0,524.8 205.0,529.8 215.0,537.5 225.0,544.3 235.0,548.0 245.0,546.3 255.0,549.2 265.0,550.7 275.0,557.6 285.0,555.6 295.0,554.4 305.0,546.3 315.0,539.4 325.0,534.1 335.0,530.7 345.0,531.3 355.0,524.6 365.0,524.7 375.0,526.4 385.0,535.6 395.0,538.8 405.0,540.1 415.0,540.3 425.0,549.3 435.0,553.4 445.0,558.3 455.0,548.8 465.0,544.3 475.0,542.7 485.0,546.9 495.0,551.4 505.0,547.7 515.0,548.8 525.0,540.2 535.0,544.5 545.0,550.4 555.0,560.6 565.0,559.9 575.0,561.7 585.0,556.8 595.0,558.7 605.0,555.4 615.0,554.1 625.0,548.2 635.0,546.1 645.0,544.1 655.0,545.6 665.0,545.8 675.0,547.5 685.0,546.5 695.0,542.1 705.0,536.6 715.0,527.6 725.0,521.1 735.0,516.4 745.0,515.1 755.0,517.0 765.0,524.3 775.0,532.6 785.0,542.0 795.0,538.9 805.0,535.2 815.0,537.1 825.0,548.0 835.0,557.7 845.0,556.1 855.0,555.3 865.0,555.0 875.0,557.4 885.0,556.8 895.0,556.3 905.0,558.4 915.0,558.9 925.0,559.7 935.0,553.4 945.0,550.9 955.0,543.5 965.0,542.6 975.0,542.4 985.0,550.9 995.0,556.2 1005.0,554.8 1015.0,548.9 1025.0,541.5 1035.0,537.9 1045.0,528.3 1055.0,524.0 1065.0,518.6 1075.0,523.1 1085.0,522.6 1095.0,524.3 1105.0,522.9 1115.0,520.4 1125.0,517.3 1135.0,515.6 1145.0,515.5 1155.0,515.9 1165.0,516.9 1175.0,520.7 1185.0,527.8" stroke="#ff9000" stroke-width="1" fill="none"/>
<polyline points="0.0,558.5 5.0,556.6 15.0,552.6 25.0,553.4 35.0,558.1 45.0,557.3 55.0,551.8 65.0,547.8 75.0,541.3 85.0,529.4 95.0,521.8 105.0,521.1 115.0,527.6 125.0,538.5 135.0,549.4 145.0,546.2 155.0,533.6 165.0,518.9 175.0,518.1 185.0,520.3 195.0,525.8 205.0,530.7 215.0,541.2 225.0,551.4 235.0,557.3 245.0,554.4 255.0,555.5 265.0,553.0 275.0,557.9 285.0,549.5 295.0,541.1 305.0,526.0 315.0,518.9 325.0,517.7 335.0,520.9 345.0,527.1 355.0,525.5 365.0,528.9 375.0,536.8 385.0,548.3 395.0,549.8 405.0,546.5 415.0,546.6 425.0,554.6 435.0,554.3 445.0,553.3 455.0,536.1 465.0,529.3 475.0,527.7 485.0,536.9 495.0,544.8 505.0,542.8 515.0,548.2 525.0,542.2 535.0,546.5 545.0,548.3 555.0,558.4 565.0,560.9 575.0,561.8 585.0,557.5 595.0,559.3 605.0,554.8 615.0,552.3 625.0,541.9 635.0,534.4 645.0,524.4 655.0,523.6 665.0,523.2 675.0,531.7 685.0,535.4 695.0,533.5 705.0,531.0 715.0,525.8 725.0,522.7 735.0,518.5 745.0,517.2 755.0,520.6 765.0,532.5 775.0,544.5 785.0,557.7 795.0,551.0 805.0,543.2 815.0,541.9 825.0,547.8 835.0,556.5 845.0,553.8 855.0,552.6 865.0,552.2 875.0,555.1 885.0,550.3 895.0,548.2 905.0,550.1 915.0,555.9 925.0,558.7 935.0,549.5 945.0,545.8 955.0,537.5 965.0,535.5 975.0,533.5 985.0,542.1 995.0,550.6 1005.0,551.0 1015.0,543.4 1025.0,532.8 1035.0,526.6 1045.0,519.1 1055.0,519.5 1065.0,518.7 1075.0,525.7 1085.0,527.1 1095.0,531.0 1105.0,529.9 1115.0,527.6 1125.0,522.8 1135.0,519.9 1145.0,518.2 1155.0,518.6 1165.0,518.4 1175.0,523.4 1185.0,533.8" stroke="#008000" stroke-width="1" fill="none"/>
<polyline points="0.0,544.9 5.0,547.1 15.0,551.5 25.0,557.3 35.0,564.4 45.0,547.1 55.0,544.4 65.0,548.7 75.0,526.4 85.0,514.1 95.0,523.2 105.0,526.1 115.0,533.6 125.0,556.0 135.0,558.6 145.0,524.0 155.0,518.2 165.0,514.4 175.0,521.8 185.0,524.6 195.0,531.0 205.0,536.6 215.0,555.9 225.0,561.6 235.0,554.4 245.0,547.2 255.0,565.0 265.0,546.9 275.0,561.8 285.0,539.8 295.0,521.8 305.0,516.4 315.0,518.6 325.0,518.1 335.0,526.1 345.0,536.9 355.0,513.4 365.0,536.4 375.0,560.5 385.0,548.0 395.0,540.8 405.0,550.7 415.0,548.2 425.0,565.0 435.0,549.7 445.0,545.3 455.0,513.4 465.0,529.3 475.0,540.6 485.0,540.8 495.0,553.0 505.0,534.7 515.0,556.9 525.0,534.9 535.0,547.8 545.0,562.3 555.0,565.0 565.0,555.5 575.0,565.0 585.0,551.9 595.0,561.0 605.0,551.4 615.0,544.4 625.0,529.9 635.0,529.1 645.0,514.3 655.0,527.4 665.0,527.9 675.0,539.8 685.0,538.4 695.0,522.4 705.0,532.3 715.0,522.7 725.0,513.0 735.0,519.9 745.0,518.8 755.0,523.0 765.0,555.6 775.0,555.0 785.0,562.5 795.0,535.5 805.0,531.6 815.0,558.6 825.0,553.4 835.0,557.4 845.0,550.5 855.0,550.0 865.0,556.1 875.0,559.3 885.0,535.6 895.0,549.6 905.0,565.0 915.0,553.2 925.0,558.0 935.0,537.2 945.0,542.3 955.0,532.9 965.0,531.2 975.0,536.5 985.0,558.7 995.0,556.6 1005.0,537.7 1015.0,535.8 1025.0,524.8 1035.0,519.3 1045.0,513.2 1055.0,526.0 1065.0,516.9 1075.0,534.3 1085.0,530.1 1095.0,528.5 1105.0,531.2 1115.0,523.2 1125.0,514.0 1135.0,522.6 1145.0,518.0 1155.0,515.3 1165.0,521.8 1175.0,533.0 1185.0,546.4" stroke="#008000" stroke-width="1" fill="none"/>
</g>
<rect x="3" y="584" width="32" height="10" fill="#a0a0a0"/>
<rect x="2" y="583" width="32" height="10" fill="#404040"/>
<rect x="1" y="582" width="32" height="10" fill="#fff"/>
<text x="2" y="590.5" class="t">MACD</text>
<g clip-path="url(#cmd)">
<path d="M3 622h5v8h-5zM13 622h5v7h-5zM23 622h5v6h-5zM33 622h5v6h-5zM43 622h5v5h-5zM53 622h5v3h-5zM63 622h5v2h-5zM83 620h5v2h-5zM93 619h5v3h-5zM103 618h5v4h-5zM113 618h5v4h-5zM123 619h5v3h-5zM133 619h5v3h-5zM143 618h5v4h-5zM153 617h5v5h-5zM163 615h5v7h-5zM173 615h5v7h-5zM183 615h5v7h-5zM193 616h5v6h-5zM203 617h5v5h-5zM213 619h5v3h-5zM223 620h5v2h-5zM233 620h5v2h-5zM243 620h5v2h-5zM273 622h5v2h-5zM283 622h5v2h-5zM303 620h5v2h-5zM313 620h5v2h-5zM323 619h5v3h-5zM333 620h5v2h-5zM343 620h5v2h-5zM353 619h5v3h-5zM363 619h5v3h-5zM373 620h5v2h-5zM383 620h5v2h-5zM393 620h5v2h-5zM403 620h5v2h-5zM423 622h5v2h-5zM433 622h5v2h-5zM443 622h5v2h-5zM463 620h5v2h-5zM543 622h5v2h-5zM553 622h5v3h-5zM563 622h5v6h-5zM573 622h5v9h-5zM583 622h5v11h-5zM593 622h5v14h-5zM603 622h5v13h-5zM613 622h5v11h-5zM623 622h5v8h-5zM633 622h5v6h-5zM643 622h5v3h-5zM653 622h5v2h-5zM663 622h5v2h-5zM673 622h5v2h-5zM693 620h5v2h-5zM703 620h5v2h-5zM713 619h5v3h-5zM723 618h5v4h-5zM733 617h5v5h-5zM743 616h5v6h-5zM753 616h5v6h-5zM763 617h5v5h-5zM773 619h5v3h-5zM783 620h5v2h-5zM793 619h5v3h-5zM803 619h5v3h-5zM813 620h5v2h-5zM823 620h5v2h-5zM873 622h5v2h-5zM903 622h5v2h-5zM913 622h5v3h-5zM923 622h5v4h-5zM933 622h5v3h-5zM943 622h5v2h-5zM953 622h5v2h-5zM983 622h5v2h-5zM993 622h5v3h-5zM1003 622h5v2h-5zM1013 622h5v2h-5zM1023 620h5v2h-5zM1033 620h5v2h-5zM1043 618h5v4h-5zM1053 617h5v5h-5zM1063 616h5v6h-5zM1073 616h5v6h-5zM1083 616h5v6h-5zM1093 616h5v6h-5zM1103 616h5v6h-5zM1113 616h5v6h-5zM1123 615h5v7h-5zM1133 615h5v7h-5zM1143 614h5v8h-5zM1153 612h5v10h-5zM1163 611h5v11h-5zM1173 613h5v9h-5zM1183 615h5v7h-5z" fill="#008000"/>
<polyline points="0.0,636.5 5.0,637.3 15.0,638.9 25.0,640.4 35.0,641.9 45.0,643.1 55.0,644.0 65.0,644.6 75.0,644.6 85.0,644.1 95.0,643.3 105.0,642.3 115.0,641.2 125.0,640.4 135.0,639.8 145.0,638.8 155.0,637.6 165.0,635.9 175.0,634.2 185.0,632.5 195.0,631.1 205.0,629.9 215.0,629.2 225.0,628.7 235.0,628.5 245.0,628.2 255.0,628.3 265.0,628.3 275.0,628.6 285.0,628.7 295.0,628.7 305.0,628.4 315.0,627.9 325.0,627.2 335.0,626.6 345.0,626.1 355.0,625.5 365.0,624.8 375.0,624.3 385.0,624.0 395.0,623.8 405.0,623.7 415.0,623.6 425.0,623.8 435.0,624.0 445.0,624.2 455.0,624.1 465.0,624.0 475.0,624.0 485.0,623.9 495.0,623.9 505.0,623.9 515.0,623.9 525.0,623.9 535.0,623.8 545.0,624.2 555.0,625.1 565.0,626.4 575.0,628.7 585.0,631.5 595.0,634.9 605.0,638.1 615.0,640.8 625.0,642.7 635.0,644.1 645.0,644.9 655.0,645.6 665.0,646.0 675.0,646.2 685.0,646.3 695.0,645.9 705.0,645.4 715.0,644.7 725.0,643.6 735.0,642.3 745.0,640.8 755.0,639.3 765.0,638.1 775.0,637.3 785.0,636.7 795.0,636.0 805.0,635.2 815.0,634.6 825.0,634.3 835.0,634.3 845.0,634.3 855.0,634.4 865.0,634.4 875.0,634.5 885.0,634.5 895.0,634.4 905.0,634.9 915.0,635.7 925.0,636.8 935.0,637.6 945.0,638.2 955.0,638.4 965.0,638.5 975.0,638.5 985.0,639.0 995.0,639.7 1005.0,640.2 1015.0,640.3 1025.0,640.1 1035.0,639.7 1045.0,638.7 1055.0,637.6 1065.0,636.1 1075.0,634.6 1085.0,633.1 1095.0,631.5 1105.0,629.9 1115.0,628.3 1125.0,626.6 1135.0,624.9 1145.0,622.9 1155.0,620.3 1165.0,617.6 1175.0,615.3 1185.0,613.5" stroke="#ff0000" stroke-width="1" fill="none"/>
<polyline points="0.0,645.6 5.0,645.5 15.0,645.4 25.0,646.2 35.0,648.1 45.0,648.0 55.0,647.4 65.0,647.0 75.0,644.8 85.0,642.2 95.0,640.0 105.0,638.1 115.0,637.0 125.0,637.1 135.0,637.3 145.0,635.0 155.0,632.5 165.0,629.3 175.0,627.3 185.0,625.9 195.0,625.4 205.0,625.2 215.0,626.1 225.0,627.1 235.0,627.4 245.0,627.1 255.0,628.5 265.0,628.7 275.0,629.5 285.0,629.3 295.0,628.5 305.0,627.2 315.0,625.8 325.0,624.7 335.0,624.2 345.0,624.2 355.0,622.7 365.0,622.1 375.0,622.5 385.0,622.9 395.0,622.8 405.0,623.2 415.0,623.4 425.0,624.4 435.0,624.7 445.0,624.8 455.0,624.0 465.0,623.6 475.0,623.7 485.0,623.7 495.0,624.0 505.0,623.7 515.0,624.0 525.0,623.7 535.0,623.7 545.0,625.6 555.0,628.5 565.0,632.0 575.0,637.6 585.0,642.6 595.0,648.4 605.0,651.0 615.0,651.5 625.0,650.3 635.0,649.9 645.0,648.2 655.0,648.0 665.0,647.6 675.0,647.2 685.0,646.5 695.0,644.5 705.0,643.4 715.0,641.8 725.0,639.2 735.0,637.0 745.0,634.9 755.0,633.3 765.0,633.5 775.0,633.8 785.0,634.4 795.0,633.2 805.0,631.9 815.0,632.3 825.0,633.3 835.0,634.3 845.0,634.4 855.0,634.4 865.0,634.7 875.0,634.9 885.0,634.3 895.0,634.1 905.0,636.7 915.0,639.0 925.0,641.2 935.0,640.7 945.0,640.5 955.0,639.2 965.0,638.8 975.0,638.8 985.0,640.8 995.0,642.6 1005.0,642.0 1015.0,641.1 1025.0,639.3 1035.0,638.1 1045.0,634.8 1055.0,633.0 1065.0,630.2 1075.0,628.6 1085.0,626.8 1095.0,625.1 1105.0,623.8 1115.0,622.0 1125.0,619.5 1135.0,618.1 1145.0,614.8 1155.0,610.2 1165.0,606.9 1175.0,606.0 1185.0,606.5" stroke="#0000ff" stroke-width="1" fill="none"/>
</g>
<rect x="3" y="664" width="26" height="10" fill="#a0a0a0"/>
<rect x="2" y="663" width="26" height="10" fill="#404040"/>
<rect x="1" y="662" width="26" height="10" fill="#fff"/>
<text x="2" y="670.5" class="t">ADX</text>
<g clip-path="url(#cad)">
<rect x="1" y="722" width="1214" height="1" fill="#808080"/>
<polyline points="0.0,704.4 5.0,704.4 15.0,704.4 25.0,709.2 35.0,706.0 45.0,706.0 55.0,710.3 65.0,710.3 75.0,705.2 85.0,700.8 95.0,697.4 105.0,699.7 115.0,702.4 125.0,702.4 135.0,701.3 145.0,707.6 155.0,706.0 165.0,703.7 175.0,701.3 185.0,700.2 195.0,706.0 205.0,701.3 215.0,698.5 225.0,695.4 235.0,705.6 245.0,707.9 255.0,706.0 265.0,704.4 275.0,700.8 285.0,697.7 295.0,700.1 305.0,698.5 315.0,697.3 325.0,695.4 335.0,703.2 345.0,704.4 355.0,706.0 365.0,707.2 375.0,707.9 385.0,703.7 395.0,708.4 405.0,710.8 415.0,708.9 425.0,704.8 435.0,702.5 445.0,701.3 455.0,707.9 465.0,707.2 475.0,706.0 485.0,711.9 495.0,713.1 505.0,710.8 515.0,707.9 525.0,706.0 535.0,707.9 545.0,704.8 555.0,701.3 565.0,697.7 575.0,695.4 585.0,692.3 595.0,692.3 605.0,692.3 615.0,703.2 625.0,703.2 635.0,710.3 645.0,708.9 655.0,712.6 665.0,710.3 675.0,710.3 685.0,711.9 695.0,707.2 705.0,703.7 715.0,708.9 725.0,703.7 735.0,700.1 745.0,697.3 755.0,707.2 765.0,706.0 775.0,701.8 785.0,702.9 795.0,705.6 805.0,706.0 815.0,708.4 825.0,705.3 835.0,704.8 845.0,705.6 855.0,707.9 865.0,708.4 875.0,707.7 885.0,712.6 895.0,713.1 905.0,705.6 915.0,700.1 925.0,698.5 935.0,698.5 945.0,704.8 955.0,706.5 965.0,709.6 975.0,711.9 985.0,709.6 995.0,705.6 1005.0,710.7 1015.0,709.4 1025.0,707.9 1035.0,704.7 1045.0,699.2 1055.0,696.5 1065.0,694.4 1075.0,692.4 1085.0,700.0 1095.0,702.3 1105.0,705.0 1115.0,702.8 1125.0,697.6 1135.0,694.4 1145.0,692.1 1155.0,690.2 1165.0,688.9 1175.0,701.5 1185.0,703.4" stroke="#008000" stroke-width="1" fill="none"/>
<polyline points="0.0,713.4 5.0,714.7 15.0,717.4 25.0,710.8 35.0,701.3 45.0,707.6 55.0,713.1 65.0,716.6 75.0,718.6 85.0,720.2 95.0,721.3 105.0,718.6 115.0,703.3 125.0,704.4 135.0,707.6 145.0,713.1 155.0,715.5 165.0,718.2 175.0,720.2 185.0,720.2 195.0,716.3 205.0,704.8 215.0,703.2 225.0,708.9 235.0,713.1 245.0,714.3 255.0,710.3 265.0,715.0 275.0,708.9 285.0,714.3 295.0,717.9 305.0,719.0 315.0,720.2 325.0,720.2 335.0,713.1 345.0,711.2 355.0,714.3 365.0,717.9 375.0,710.8 385.0,703.7 395.0,709.6 405.0,715.0 415.0,713.6 425.0,713.6 435.0,715.5 445.0,717.9 455.0,715.5 465.0,717.9 475.0,704.8 485.0,710.8 495.0,713.1 505.0,714.3 515.0,715.0 525.0,717.4 535.0,706.0 545.0,698.5 555.0,697.7 565.0,690.6 575.0,692.3 585.0,691.8 595.0,702.5 605.0,707.2 615.0,713.1 625.0,715.5 635.0,710.8 645.0,715.0 655.0,711.9 665.0,709.6 675.0,711.9 685.0,716.7 695.0,719.0 705.0,720.2 715.0,716.7 725.0,717.9 735.0,719.7 745.0,719.7 755.0,715.0 765.0,708.4 775.0,701.3 785.0,707.2 795.0,713.1 805.0,716.7 815.0,708.4 825.0,696.6 835.0,703.7 845.0,710.8 855.0,715.5 865.0,711.9 875.0,711.9 885.0,714.3 895.0,716.7 905.0,702.5 915.0,698.5 925.0,707.2 935.0,712.6 945.0,704.8 955.0,710.8 965.0,713.1 975.0,711.9 985.0,708.4 995.0,708.9 1005.0,712.6 1015.0,716.5 1025.0,718.9 1035.0,720.5 1045.0,721.3 1055.0,721.3 1065.0,721.3 1075.0,721.3 1085.0,718.1 1095.0,719.2 1105.0,720.2 1115.0,720.8 1125.0,721.3 1135.0,721.3 1145.0,721.3 1155.0,721.3 1165.0,721.3 1175.0,710.7 1185.0,701.2" stroke="#ff0000" stroke-width="1" fill="none"/>
<polyline points="0.0,714.3 5.0,712.3 15.0,708.4 25.0,713.1 35.0,717.5 45.0,717.5 55.0,716.3 65.0,711.5 75.0,708.4 85.0,704.4 95.0,700.2 105.0,708.7 115.0,714.4 125.0,717.1 135.0,719.4 145.0,709.2 155.0,706.0 165.0,704.4 175.0,710.8 185.0,715.5 195.0,717.9 205.0,718.3 215.0,719.7 225.0,721.4 235.0,714.3 245.0,715.5 255.0,717.9 265.0,719.7 275.0,720.2 285.0,721.4 295.0,707.9 305.0,703.7 315.0,705.6 325.0,710.3 335.0,714.3 345.0,717.9 355.0,709.6 365.0,712.6 375.0,716.7 385.0,717.9 395.0,714.3 405.0,716.7 415.0,719.0 425.0,720.2 435.0,721.4 445.0,708.9 455.0,711.9 465.0,710.8 475.0,715.5 485.0,713.1 495.0,715.5 505.0,717.9 515.0,719.0 525.0,707.9 535.0,711.9 545.0,715.5 555.0,717.4 565.0,719.7 575.0,720.2 585.0,721.4 595.0,720.7 605.0,721.4 615.0,708.4 625.0,703.2 635.0,710.3 645.0,707.9 655.0,713.1 665.0,715.5 675.0,717.4 685.0,715.0 695.0,710.8 705.0,711.9 715.0,715.5 725.0,698.9 735.0,703.7 745.0,708.9 755.0,713.1 765.0,716.7 775.0,719.0 785.0,718.3 795.0,716.7 805.0,708.4 815.0,709.6 825.0,715.5 835.0,716.7 845.0,717.4 855.0,712.6 865.0,715.5 875.0,717.4 885.0,716.0 895.0,717.4 905.0,718.3 915.0,720.2 925.0,720.2 935.0,681.2 945.0,696.6 955.0,698.9 965.0,708.4 975.0,714.3 985.0,716.7 995.0,719.0 1005.0,715.0 1015.0,710.2 1025.0,710.2 1035.0,711.8 1045.0,714.2 1055.0,708.6 1065.0,708.6 1075.0,714.5 1085.0,710.7 1095.0,716.1 1105.0,717.3 1115.0,715.0 1125.0,704.4 1135.0,709.1 1145.0,705.5 1155.0,695.2 1165.0,699.7 1175.0,708.6 1185.0,714.5" stroke="#0000ff" stroke-width="1" fill="none"/>
</g>
<rect x="3" y="735" width="33" height="11" fill="#a0a0a0"/>
<rect x="2" y="734" width="33" height="11" fill="#404040"/>
<rect x="1" y="733" width="33" height="11" fill="#fff"/>
<text x="2" y="742.5" class="t">RSI, 8</text>
<g clip-path="url(#crs)">
<line x1="1" y1="758.5" x2="1215" y2="758.5" stroke="#e00000" stroke-width="1" stroke-dasharray="3,3"/>
<line x1="1" y1="792.5" x2="1215" y2="792.5" stroke="#0000ff" stroke-width="1" stroke-dasharray="3,3"/>
<polyline points="0.0,785.6 5.0,786.4 15.0,788.0 25.0,792.1 35.0,796.2 45.0,786.8 55.0,784.6 65.0,786.4 75.0,775.8 85.0,773.3 95.0,773.1 105.0,774.2 115.0,777.3 125.0,784.3 135.0,785.1 145.0,771.3 155.0,768.7 165.0,764.3 175.0,768.6 185.0,770.2 195.0,774.0 205.0,776.3 215.0,781.8 225.0,784.0 235.0,780.5 245.0,777.2 255.0,785.9 265.0,780.1 275.0,783.7 285.0,778.8 295.0,775.0 305.0,771.7 315.0,770.2 325.0,770.0 335.0,773.5 345.0,777.7 355.0,767.6 365.0,772.3 375.0,777.9 385.0,778.6 395.0,775.9 405.0,779.5 415.0,778.3 425.0,784.3 435.0,779.8 445.0,779.2 455.0,771.7 465.0,774.2 475.0,777.5 485.0,777.6 495.0,780.5 505.0,774.4 515.0,780.9 525.0,774.3 535.0,778.0 545.0,789.0 555.0,794.2 565.0,797.2 575.0,801.4 585.0,802.1 595.0,803.8 605.0,793.0 615.0,787.3 625.0,782.0 635.0,784.3 645.0,779.5 655.0,783.9 665.0,784.1 675.0,784.7 685.0,784.1 695.0,777.6 705.0,780.8 715.0,777.9 725.0,771.6 735.0,772.4 745.0,771.3 755.0,772.5 765.0,782.3 775.0,783.9 785.0,786.0 795.0,775.2 805.0,773.8 815.0,782.4 825.0,785.6 835.0,787.0 845.0,783.6 855.0,783.3 865.0,785.4 875.0,786.8 885.0,779.5 895.0,782.9 905.0,794.0 915.0,794.9 925.0,796.4 935.0,781.5 945.0,783.5 955.0,778.1 965.0,781.3 975.0,783.7 985.0,790.8 995.0,791.9 1005.0,781.1 1015.0,780.2 1025.0,776.1 1035.0,777.5 1045.0,768.6 1055.0,772.8 1065.0,768.3 1075.0,771.6 1085.0,770.1 1095.0,768.8 1105.0,769.5 1115.0,765.7 1125.0,761.9 1135.0,765.5 1145.0,758.6 1155.0,754.5 1165.0,756.0 1175.0,765.7 1185.0,771.4" stroke="#0000ff" stroke-width="1" fill="none"/>
</g>
<rect x="0" y="0" width="1268" height="1" fill="#000"/>
<rect x="175" y="0" width="41" height="2" fill="#00ff00"/>
<rect x="305" y="0" width="50" height="2" fill="#00ff00"/>
<rect x="384" y="0" width="71" height="2" fill="#00ff00"/>
<rect x="1216" y="1" width="51" height="1" fill="#fff"/>
<rect x="1" y="817" width="1214" height="1" fill="#fff"/>
<rect x="0" y="819" width="1215" height="1" fill="#fff"/>
<rect x="0" y="820" width="1215" height="1" fill="#fff"/>
<rect x="1" y="1" width="1" height="816" fill="#fff"/>
<rect x="1216" y="1" width="1" height="817" fill="#fff"/>
<rect x="1266" y="1" width="1" height="817" fill="#fff"/>
<rect x="1" y="498" width="1214" height="1" fill="#fff"/>
<rect x="1216" y="501" width="51" height="1" fill="#fff"/>
<rect x="0" y="499" width="1268" height="2" fill="#000"/>
<rect x="1" y="579" width="1214" height="1" fill="#fff"/>
<rect x="1216" y="582" width="51" height="1" fill="#fff"/>
<rect x="0" y="580" width="1268" height="2" fill="#000"/>
<rect x="1" y="659" width="1214" height="1" fill="#fff"/>
<rect x="1216" y="662" width="51" height="1" fill="#fff"/>
<rect x="0" y="660" width="1268" height="2" fill="#000"/>
<rect x="1" y="730" width="1214" height="1" fill="#fff"/>
<rect x="1216" y="733" width="51" height="1" fill="#fff"/>
<rect x="0" y="731" width="1268" height="2" fill="#000"/>
<rect x="0" y="818" width="1268" height="1" fill="#000"/>
<rect x="0" y="821" width="1216" height="1" fill="#000"/>
<rect x="0" y="0" width="1" height="822" fill="#000"/>
<rect x="1215" y="0" width="1" height="822" fill="#000"/>
<rect x="1267" y="0" width="1" height="819" fill="#000"/>
<g clip-path="url(#cax)">
<text x="1264" y="86.1" class="v" fill="#000" stroke="#000">200.00</text>
<rect x="1216" y="101" width="50" height="1" fill="#fff"/>
<rect x="1216" y="113" width="50" height="1" fill="#fff"/>
<rect x="1216" y="102" width="50" height="11" fill="#7f00ff"/>
<rect x="1216" y="102" width="50" height="1" fill="#000"/>
<rect x="1216" y="112" width="50" height="1" fill="#000"/>
<text x="1265" y="111.3" class="bv" fill="#fff">195.96</text>
<rect x="1216" y="140" width="50" height="1" fill="#fff"/>
<rect x="1216" y="152" width="50" height="1" fill="#fff"/>
<rect x="1216" y="141" width="50" height="11" fill="#000050"/>
<rect x="1216" y="141" width="50" height="1" fill="#000"/>
<rect x="1216" y="151" width="50" height="1" fill="#000"/>
<text x="1265" y="150.3" class="bv" fill="#fff">189.70</text>
<rect x="1216" y="208" width="50" height="1" fill="#fff"/>
<rect x="1216" y="220" width="50" height="1" fill="#fff"/>
<rect x="1216" y="209" width="50" height="11" fill="#00ff00"/>
<rect x="1216" y="209" width="50" height="1" fill="#000"/>
<rect x="1216" y="219" width="50" height="1" fill="#000"/>
<text x="1265" y="218.3" class="bv" fill="#fff">178.86</text>
<rect x="1216" y="233" width="50" height="1" fill="#fff"/>
<rect x="1216" y="245" width="50" height="1" fill="#fff"/>
<rect x="1216" y="234" width="50" height="11" fill="#000000"/>
<rect x="1216" y="234" width="50" height="1" fill="#000"/>
<rect x="1216" y="244" width="50" height="1" fill="#000"/>
<text x="1265" y="243.3" class="bv" fill="#fff">174.80</text>
<rect x="1216" y="244" width="50" height="1" fill="#fff"/>
<rect x="1216" y="256" width="50" height="1" fill="#fff"/>
<rect x="1216" y="245" width="50" height="11" fill="#8080ff"/>
<rect x="1216" y="245" width="50" height="1" fill="#000"/>
<rect x="1216" y="255" width="50" height="1" fill="#000"/>
<text x="1265" y="254.3" class="bv" fill="#fff">173.21</text>
<rect x="1216" y="297" width="50" height="1" fill="#fff"/>
<rect x="1216" y="309" width="50" height="1" fill="#fff"/>
<rect x="1216" y="298" width="50" height="11" fill="#000050"/>
<rect x="1216" y="298" width="50" height="1" fill="#000"/>
<rect x="1216" y="308" width="50" height="1" fill="#000"/>
<text x="1265" y="308.6" class="bv" fill="#fff">164.67</text>
<rect x="1216" y="316" width="50" height="1" fill="#fff"/>
<rect x="1216" y="305" width="50" height="11" fill="#a00000"/>
<rect x="1216" y="305" width="50" height="1" fill="#000"/>
<rect x="1216" y="315" width="50" height="1" fill="#000"/>
<text x="1265" y="314.3" class="bv" fill="#fff">163.44</text>
<rect x="1216" y="326" width="50" height="1" fill="#fff"/>
<rect x="1216" y="338" width="50" height="1" fill="#fff"/>
<rect x="1216" y="327" width="50" height="11" fill="url(#dith)"/>
<rect x="1216" y="327" width="50" height="1" fill="#000"/>
<rect x="1216" y="337" width="50" height="1" fill="#000"/>
<text x="1265" y="336.3" class="bv" fill="#000">160.00</text>
<rect x="1216" y="384" width="50" height="1" fill="#fff"/>
<rect x="1216" y="396" width="50" height="1" fill="#fff"/>
<rect x="1216" y="385" width="50" height="11" fill="url(#dith)"/>
<rect x="1216" y="385" width="50" height="1" fill="#000"/>
<rect x="1216" y="395" width="50" height="1" fill="#000"/>
<text x="1265" y="394.3" class="bv" fill="#000">150.75</text>
<rect x="1216" y="455" width="50" height="1" fill="#fff"/>
<rect x="1216" y="467" width="50" height="1" fill="#fff"/>
<rect x="1216" y="456" width="50" height="11" fill="#ff0000"/>
<rect x="1216" y="456" width="50" height="1" fill="#000"/>
<rect x="1216" y="466" width="50" height="1" fill="#000"/>
<text x="1265" y="465.3" class="bv" fill="#fff">139.40</text>
<text x="1264" y="515.6" class="v" fill="#000" stroke="#000">100.00</text>
<rect x="1216" y="513" width="50" height="1" fill="#fff"/>
<rect x="1216" y="525" width="50" height="1" fill="#fff"/>
<rect x="1216" y="514" width="50" height="11" fill="#ff0000"/>
<rect x="1216" y="514" width="50" height="1" fill="#000"/>
<rect x="1216" y="524" width="50" height="1" fill="#000"/>
<rect x="1216" y="515" width="50" height="1" fill="#fff"/>
<rect x="1216" y="527" width="50" height="1" fill="#fff"/>
<rect x="1216" y="516" width="50" height="11" fill="#ff9000"/>
<rect x="1216" y="516" width="50" height="1" fill="#000"/>
<rect x="1216" y="526" width="50" height="1" fill="#000"/>
<text x="1264" y="525.1" class="v" fill="#fff" stroke="#fff">82.18</text>
<rect x="1216" y="526" width="50" height="1" fill="#fff"/>
<rect x="1216" y="538" width="50" height="1" fill="#fff"/>
<rect x="1216" y="527" width="50" height="11" fill="#ff9000"/>
<rect x="1216" y="527" width="50" height="1" fill="#000"/>
<rect x="1216" y="537" width="50" height="1" fill="#000"/>
<text x="1264" y="538.6" class="v" fill="#fff" stroke="#fff">78.50</text>
<rect x="1216" y="532" width="50" height="1" fill="#fff"/>
<rect x="1216" y="544" width="50" height="1" fill="#fff"/>
<rect x="1216" y="533" width="50" height="11" fill="#008000"/>
<rect x="1216" y="533" width="50" height="1" fill="#000"/>
<rect x="1216" y="543" width="50" height="1" fill="#000"/>
<text x="1264" y="541.6" class="v" fill="#fff" stroke="#fff">66.27</text>
<rect x="1216" y="540" width="50" height="1" fill="#fff"/>
<rect x="1216" y="540" width="50" height="1" fill="#fff"/>
<rect x="1216" y="552" width="50" height="1" fill="#fff"/>
<rect x="1216" y="541" width="50" height="11" fill="#008000"/>
<rect x="1216" y="541" width="50" height="1" fill="#000"/>
<rect x="1216" y="551" width="50" height="1" fill="#000"/>
<text x="1264" y="551.1" class="v" fill="#fff" stroke="#fff">36.00</text>
<rect x="1216" y="548" width="50" height="1" fill="#fff"/>
<rect x="1216" y="560" width="50" height="1" fill="#fff"/>
<rect x="1216" y="549" width="50" height="11" fill="#0000c0"/>
<rect x="1216" y="549" width="50" height="1" fill="#000"/>
<rect x="1216" y="559" width="50" height="1" fill="#000"/>
<text x="1264" y="558.1" class="v" fill="#fff" stroke="#fff">20.00</text>
<text x="1264" y="569.1" class="v" fill="#000" stroke="#000">0.00</text>
<rect x="1216" y="600" width="50" height="1" fill="#fff"/>
<rect x="1216" y="612" width="50" height="1" fill="#fff"/>
<rect x="1216" y="601" width="50" height="11" fill="#0000ff"/>
<rect x="1216" y="601" width="50" height="1" fill="#000"/>
<rect x="1216" y="611" width="50" height="1" fill="#000"/>
<text x="1264" y="611.6" class="v" fill="#000" stroke="#000">5.03</text>
<rect x="1216" y="607" width="50" height="1" fill="#fff"/>
<rect x="1216" y="619" width="50" height="1" fill="#fff"/>
<rect x="1216" y="608" width="50" height="11" fill="#ff0000"/>
<rect x="1216" y="608" width="50" height="1" fill="#000"/>
<rect x="1216" y="618" width="50" height="1" fill="#000"/>
<text x="1264" y="617.1" class="v" fill="#000" stroke="#000">2.73</text>
<text x="1264" y="641.0" class="v" fill="#000" stroke="#000">-5.00</text>
<text x="1264" y="692.1" class="v" fill="#000" stroke="#000">100.00</text>
<text x="1264" y="727.6" class="v" fill="#000" stroke="#000">0.00</text>
<rect x="1216" y="695" width="50" height="1" fill="#fff"/>
<rect x="1216" y="707" width="50" height="1" fill="#fff"/>
<rect x="1216" y="696" width="50" height="11" fill="#ff0000"/>
<rect x="1216" y="696" width="50" height="1" fill="#000"/>
<rect x="1216" y="706" width="50" height="1" fill="#000"/>
<rect x="1216" y="697" width="50" height="1" fill="#fff"/>
<rect x="1216" y="709" width="50" height="1" fill="#fff"/>
<rect x="1216" y="698" width="50" height="11" fill="#008000"/>
<rect x="1216" y="698" width="50" height="1" fill="#000"/>
<rect x="1216" y="708" width="50" height="1" fill="#000"/>
<text x="1264" y="707.1" class="v" fill="#fff" stroke="#fff">55.20</text>
<rect x="1216" y="708" width="50" height="1" fill="#fff"/>
<rect x="1216" y="720" width="50" height="1" fill="#fff"/>
<rect x="1216" y="709" width="50" height="11" fill="#0000ff"/>
<rect x="1216" y="709" width="50" height="1" fill="#000"/>
<rect x="1216" y="719" width="50" height="1" fill="#000"/>
<text x="1264" y="718.1" class="v" fill="#fff" stroke="#fff">22.46</text>
<text x="1264" y="746.2" class="v" fill="#000" stroke="#000">100.00</text>
<text x="1264" y="779.8" class="v" fill="#000" stroke="#000">50.00</text>
<rect x="1216" y="752" width="50" height="1" fill="#fff"/>
<rect x="1216" y="764" width="50" height="1" fill="#fff"/>
<rect x="1216" y="753" width="50" height="11" fill="#c00000"/>
<rect x="1216" y="753" width="50" height="1" fill="#000"/>
<rect x="1216" y="763" width="50" height="1" fill="#000"/>
<text x="1264" y="762.1" class="v" fill="#fff" stroke="#fff">75.00</text>
<rect x="1216" y="764" width="50" height="1" fill="#fff"/>
<rect x="1216" y="776" width="50" height="1" fill="#fff"/>
<rect x="1216" y="765" width="50" height="11" fill="#0000ff"/>
<rect x="1216" y="765" width="50" height="1" fill="#000"/>
<rect x="1216" y="775" width="50" height="1" fill="#000"/>
<text x="1264" y="774.1" class="v" fill="#fff" stroke="#fff">57.06</text>
<rect x="1216" y="786" width="50" height="1" fill="#fff"/>
<rect x="1216" y="798" width="50" height="1" fill="#fff"/>
<rect x="1216" y="787" width="50" height="11" fill="#0000a0"/>
<rect x="1216" y="787" width="50" height="1" fill="#000"/>
<rect x="1216" y="797" width="50" height="1" fill="#000"/>
<text x="1264" y="796.1" class="v" fill="#fff" stroke="#fff">25.00</text>
<text x="1264" y="812.6" class="v" fill="#000" stroke="#000">0.00</text>
</g>
<text x="950.5" y="433" class="wm">Портал для трейдеров - ForTrader.ru</text>
<rect x="35" y="821" width="1" height="13" fill="#000"/>
<text x="37" y="832" class="d">Май 23</text>
<rect x="85" y="821" width="1" height="13" fill="#000"/>
<text x="87" y="832" class="d">30</text>
<rect x="135" y="821" width="1" height="13" fill="#000"/>
<text x="137" y="832" class="d">Июн 6</text>
<rect x="185" y="821" width="1" height="13" fill="#000"/>
<text x="187" y="832" class="d">14</text>
<rect x="225" y="821" width="1" height="13" fill="#000"/>
<text x="227" y="832" class="d">20</text>
<rect x="275" y="821" width="1" height="13" fill="#000"/>
<text x="277" y="832" class="d">27</text>
<rect x="325" y="821" width="1" height="13" fill="#000"/>
<text x="327" y="832" class="d">Июл 4</text>
<rect x="375" y="821" width="1" height="13" fill="#000"/>
<text x="377" y="832" class="d">11</text>
<rect x="425" y="821" width="1" height="13" fill="#000"/>
<text x="427" y="832" class="d">18</text>
<rect x="475" y="821" width="1" height="13" fill="#000"/>
<text x="477" y="832" class="d">25</text>
<rect x="525" y="821" width="1" height="13" fill="#000"/>
<text x="527" y="832" class="d">Авг 1</text>
<rect x="575" y="821" width="1" height="13" fill="#000"/>
<text x="577" y="832" class="d">8</text>
<rect x="625" y="821" width="1" height="13" fill="#000"/>
<text x="627" y="832" class="d">15</text>
<rect x="675" y="821" width="1" height="13" fill="#000"/>
<text x="677" y="832" class="d">22</text>
<rect x="725" y="821" width="1" height="13" fill="#000"/>
<text x="727" y="832" class="d">29</text>
<rect x="775" y="821" width="1" height="13" fill="#000"/>
<text x="777" y="832" class="d">Сен 5</text>
<rect x="825" y="821" width="1" height="13" fill="#000"/>
<text x="827" y="832" class="d">12</text>
<rect x="875" y="821" width="1" height="13" fill="#000"/>
<text x="877" y="832" class="d">19</text>
<rect x="925" y="821" width="1" height="13" fill="#000"/>
<text x="927" y="832" class="d">26</text>
<rect x="975" y="821" width="1" height="13" fill="#000"/>
<text x="977" y="832" class="d">Окт 3</text>
<rect x="1025" y="821" width="1" height="13" fill="#000"/>
<text x="1027" y="832" class="d">10</text>
<rect x="1075" y="821" width="1" height="13" fill="#000"/>
<text x="1077" y="832" class="d">17</text>
<rect x="1125" y="821" width="1" height="13" fill="#000"/>
<text x="1127" y="832" class="d">24</text>
<rect x="1175" y="821" width="1" height="13" fill="#000"/>
<text x="1177" y="832" class="d">31</text>
</svg>
</body></html>
